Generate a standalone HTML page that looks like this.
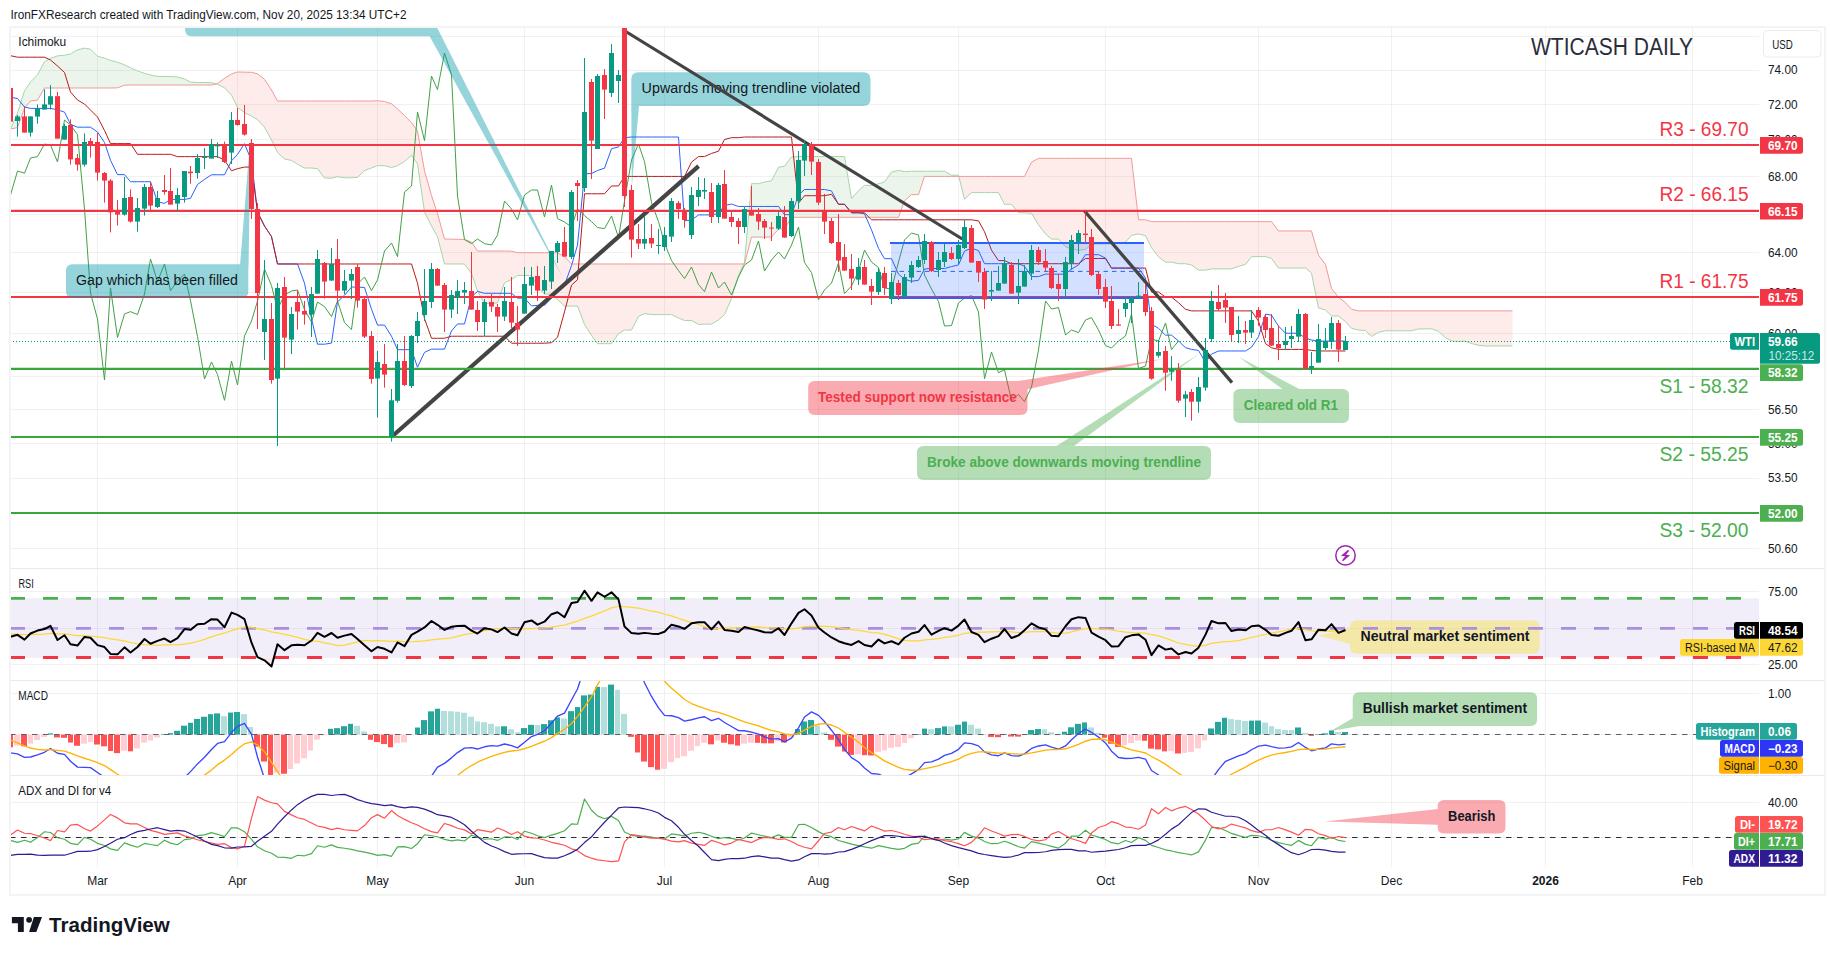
<!DOCTYPE html>
<html lang="en"><head><meta charset="utf-8"><title>WTICASH DAILY</title>
<style>
html,body{margin:0;padding:0;background:#fff;}
body{width:1835px;height:955px;overflow:hidden;font-family:'Liberation Sans', 'DejaVu Sans', sans-serif;}
svg{display:block;}
text{font-family:'Liberation Sans', 'DejaVu Sans', sans-serif;}
</style></head><body>
<svg width="1835" height="955" viewBox="0 0 1835 955">
<defs>
<clipPath id="cpMain"><rect x="10" y="27" width="1749" height="541.5"/></clipPath>
<clipPath id="cpRsi"><rect x="10" y="569" width="1749" height="111.5"/></clipPath>
<clipPath id="cpOB"><rect x="10" y="569" width="1749" height="29.4"/></clipPath>
<clipPath id="cpOS"><rect x="10" y="657.5" width="1749" height="23"/></clipPath>
<clipPath id="cpMacd"><rect x="10" y="681" width="1749" height="94.5"/></clipPath>
<clipPath id="cpAdx"><rect x="10" y="776" width="1749" height="91"/></clipPath>
</defs>
<rect width="1835" height="955" fill="#ffffff"/>
<g stroke="rgba(0,0,0,0.055)" stroke-width="1"><line x1="97.5" y1="27" x2="97.5" y2="867"/><line x1="237.5" y1="27" x2="237.5" y2="867"/><line x1="377.5" y1="27" x2="377.5" y2="867"/><line x1="524.5" y1="27" x2="524.5" y2="867"/><line x1="664.5" y1="27" x2="664.5" y2="867"/><line x1="818.5" y1="27" x2="818.5" y2="867"/><line x1="958.5" y1="27" x2="958.5" y2="867"/><line x1="1105.5" y1="27" x2="1105.5" y2="867"/><line x1="1258.5" y1="27" x2="1258.5" y2="867"/><line x1="1391.5" y1="27" x2="1391.5" y2="867"/><line x1="1545.5" y1="27" x2="1545.5" y2="867"/><line x1="1692.5" y1="27" x2="1692.5" y2="867"/><line x1="10" y1="36.5" x2="1759" y2="36.5"/><line x1="10" y1="70.5" x2="1759" y2="70.5"/><line x1="10" y1="104.5" x2="1759" y2="104.5"/><line x1="10" y1="139.5" x2="1759" y2="139.5"/><line x1="10" y1="176.5" x2="1759" y2="176.5"/><line x1="10" y1="214.5" x2="1759" y2="214.5"/><line x1="10" y1="252.5" x2="1759" y2="252.5"/><line x1="10" y1="292.5" x2="1759" y2="292.5"/><line x1="10" y1="333.5" x2="1759" y2="333.5"/><line x1="10" y1="376.5" x2="1759" y2="376.5"/><line x1="10" y1="409.5" x2="1759" y2="409.5"/><line x1="10" y1="443.5" x2="1759" y2="443.5"/><line x1="10" y1="478.5" x2="1759" y2="478.5"/><line x1="10" y1="513.5" x2="1759" y2="513.5"/><line x1="10" y1="548.5" x2="1759" y2="548.5"/><line x1="10" y1="591.5" x2="1759" y2="591.5"/><line x1="10" y1="628.5" x2="1759" y2="628.5"/><line x1="10" y1="664.5" x2="1759" y2="664.5"/><line x1="10" y1="693.5" x2="1759" y2="693.5"/><line x1="10" y1="734.5" x2="1759" y2="734.5"/><line x1="10" y1="802.5" x2="1759" y2="802.5"/><line x1="10" y1="837.5" x2="1759" y2="837.5"/></g>
<g clip-path="url(#cpMain)"><polygon points="10.5,129 10.5,129 10.5,129 10.5,129" fill="rgba(244,67,54,0.1)"/><polygon points="10.5,129 17.5,113 24.5,90.71 30.5,81.93 37.5,75 44.5,61.71 50.5,58.29 57.5,55.89 64.5,55.18 70.5,54.06 77.5,49.88 84.5,48.12 90.5,49.28 97.5,56.14 104.5,58.19 110.5,60.41 117.5,62.19 124.5,64.81 130.5,67.75 137.5,70.91 144.5,73.36 150.5,74.94 157.5,76.41 164.5,76.48 170.5,76.54 177.5,76.97 184.5,78.87 190.5,82.13 197.5,82.47 204.5,82.53 211.5,82.73 216.69,83.93 216.69,83.93 211.5,85 204.5,85 197.5,85 190.5,85 184.5,85 177.5,85 170.5,85 164.5,85 157.5,85 150.5,85 144.5,85 137.5,85 130.5,85 124.5,85.19 117.5,87.81 110.5,88 104.5,88 97.5,88 90.5,88 84.5,88 77.5,88 70.5,88 64.5,88 57.5,88 50.5,88 44.5,88 37.5,100.07 30.5,101 24.5,108.2 17.5,127.57 10.5,129" fill="rgba(67,160,71,0.1)"/><polygon points="216.69,83.93 217.5,84.27 224.5,87.74 231.5,95.08 237.5,107.38 244.5,112.62 251.5,115.92 257.5,119.64 264.5,127.25 271.5,140 277.5,152.5 284.5,159.03 291.5,160.39 297.5,164.29 304.5,168 311.5,168 317.5,168.71 324.5,178.03 331.5,178.25 337.5,176.69 344.5,177.84 351.5,177.84 357.5,177.34 364.5,170.46 371.5,167.97 377.5,165.68 384.5,165.68 391.5,167.49 397.5,165.78 404.5,161.52 411.5,155.33 417.5,163.89 424.5,212.02 431.5,226.05 437.5,236.6 444.5,263.98 451.5,263.98 457.5,263.98 464.5,263.98 471.5,273.53 477.5,291.01 484.5,303.44 491.5,303.44 497.5,302.92 504.5,282.77 511.5,279.48 517.5,275.46 524.5,275.46 531.5,275.7 537.5,286.4 544.5,294.16 551.5,294.16 557.5,299.58 564.5,306.09 571.5,306.09 577.5,306.09 584.5,324.49 591.5,335.38 597.5,343.68 604.5,343.68 611.5,343.68 618.5,333.57 624.5,330.07 631.5,330.07 638.5,316.3 644.5,313.59 651.5,314.58 658.5,314.58 664.5,314.58 671.5,314.58 678.5,318.02 684.5,320.47 691.5,320.47 698.5,324.42 704.5,324.15 711.5,324.15 718.5,319.95 724.5,314.65 731.5,298.37 738.5,275.31 744.29,263.98 744.29,263.98 738.5,263.98 731.5,263.98 724.5,263.98 718.5,263.98 711.5,263.98 704.5,263.98 698.5,263.98 691.5,263.98 684.5,263.98 678.5,263.98 671.5,263.98 664.5,263.98 658.5,263.98 651.5,263.98 644.5,263.98 638.5,263.98 631.5,263.98 624.5,263.98 618.5,263.98 611.5,263.98 604.5,263.98 597.5,263.98 591.5,263.98 584.5,263.98 577.5,263.98 571.5,263.98 564.5,256.59 557.5,252.71 551.5,252.71 544.5,252.71 537.5,252.71 531.5,252.71 524.5,252.71 517.5,252.71 511.5,251.17 504.5,251 497.5,251 491.5,251 484.5,251 477.5,251 471.5,242.04 464.5,239.47 457.5,239.31 451.5,239.17 444.5,239.01 437.5,213.5 431.5,195.5 424.5,170.83 417.5,131 411.5,122.71 404.5,115.5 397.5,108.95 391.5,103.83 384.5,101.45 377.5,100.78 371.5,101 364.5,101 357.5,101 351.5,101 344.5,101 337.5,101 331.5,101 324.5,101 317.5,101 311.5,101 304.5,101 297.5,101 291.5,101 284.5,101 277.5,101 271.5,90 264.5,79.25 257.5,73.84 251.5,72.32 244.5,72.17 237.5,72.01 231.5,73.94 224.5,78.38 217.5,83.62 216.69,83.93" fill="rgba(244,67,54,0.1)"/><polygon points="744.29,263.98 744.5,262.25 751.5,183.67 758.5,183.67 764.5,182.07 771.5,180.92 778.5,167.21 784.5,166.28 791.5,156.89 798.5,156.56 804.5,156.56 811.5,156.56 818.5,156.56 824.5,156.56 831.5,156.56 838.5,156.56 844.5,156.56 851.5,198.4 858.5,190.77 864.5,185.39 871.5,185.39 878.5,183.79 884.5,181.94 891.5,172.05 898.5,170.4 904.5,171.59 911.5,171.26 918.5,171.26 924.5,171.26 931.5,171.26 938.5,171.26 944.5,171.26 951.5,175.24 958.5,175.24 958.83,176.41 958.83,176.41 958.5,176.41 951.5,176.41 944.5,176.41 938.5,176.41 931.5,176.41 924.5,176.41 918.5,194.59 911.5,194.59 904.5,200.87 898.5,217.29 891.5,217.29 884.5,217.29 878.5,217.29 871.5,217.29 864.5,217.29 858.5,217.29 851.5,217.29 844.5,217.29 838.5,217.29 831.5,217.29 824.5,217.29 818.5,217.29 811.5,217.29 804.5,217.29 798.5,217.29 791.5,217.29 784.5,229.01 778.5,229.01 771.5,237.1 764.5,237.1 758.5,237.1 751.5,237.1 744.5,263.98 744.29,263.98" fill="rgba(67,160,71,0.1)"/><polygon points="958.83,176.41 964.5,199.18 971.5,192.59 978.5,192.59 984.5,192.59 991.5,192.59 998.5,192.6 1004.5,204.27 1011.5,204.27 1018.5,212.76 1024.5,212.76 1031.5,213.29 1038.5,224.83 1045.5,233.96 1051.5,239.09 1058.5,239.09 1065.5,246.67 1071.5,249.17 1078.5,250.16 1085.5,249.67 1091.5,244.16 1098.5,243.92 1105.5,243.92 1111.5,243.92 1118.5,242.96 1125.5,242.15 1131.5,235.35 1138.5,233.91 1145.5,235.65 1151.5,247.64 1158.5,256.93 1165.5,262.16 1171.5,262.16 1178.5,263.71 1185.5,263.71 1191.5,265.01 1198.5,270.14 1205.5,270.14 1211.5,268.92 1218.5,268.92 1225.5,268.92 1231.5,268.92 1238.5,266.37 1245.5,264.36 1251.5,256.6 1258.5,256.6 1265.5,256.6 1271.5,258.29 1278.5,268.09 1285.5,268.09 1291.5,268.09 1298.5,268.09 1305.5,268.09 1311.5,273.04 1318.5,307.98 1325.5,310.03 1331.5,316 1338.5,316 1345.5,321.68 1351.5,328.32 1358.5,330 1365.5,330.52 1371.5,336.44 1378.5,332.33 1385.5,330.78 1391.5,330.78 1398.5,330.78 1405.5,330.78 1411.5,330.78 1418.5,328.93 1425.5,328.92 1431.5,328.78 1438.5,331.36 1445.5,337.67 1452.5,341.28 1458.5,341.28 1465.5,341.28 1472.5,343.74 1478.5,345.24 1485.5,346.02 1492.5,346.02 1498.5,346.02 1505.5,346.02 1512.5,346.02 1512.5,310.9 1505.5,310.9 1498.5,310.9 1492.5,310.9 1485.5,310.9 1478.5,310.9 1472.5,310.9 1465.5,310.9 1458.5,310.9 1452.5,310.9 1445.5,310.9 1438.5,310.9 1431.5,310.9 1425.5,310.9 1418.5,310.9 1411.5,310.9 1405.5,310.9 1398.5,310.9 1391.5,310.9 1385.5,310.9 1378.5,310.9 1371.5,310.9 1365.5,310.9 1358.5,310.9 1351.5,309.25 1345.5,302.71 1338.5,297.11 1331.5,288.51 1325.5,264.51 1318.5,255.24 1311.5,230.95 1305.5,230.95 1298.5,230.95 1291.5,230.95 1285.5,230.95 1278.5,230.95 1271.5,221.66 1265.5,221.66 1258.5,221.66 1251.5,221.66 1245.5,221.66 1238.5,221.66 1231.5,221.66 1225.5,221.66 1218.5,221.66 1211.5,221.66 1205.5,221.66 1198.5,221.66 1191.5,221.66 1185.5,221.66 1178.5,221.66 1171.5,221.66 1165.5,221.66 1158.5,221.66 1151.5,221.66 1145.5,219.8 1138.5,219.8 1131.5,158.33 1125.5,158.33 1118.5,158.33 1111.5,158.33 1105.5,158.33 1098.5,158.33 1091.5,158.33 1085.5,158.33 1078.5,158.33 1071.5,158.33 1065.5,158.33 1058.5,158.33 1051.5,158.33 1045.5,158.33 1038.5,158.33 1031.5,162.15 1024.5,176.41 1018.5,176.41 1011.5,176.41 1004.5,176.41 998.5,176.41 991.5,176.41 984.5,176.41 978.5,176.41 971.5,176.41 964.5,176.41 958.83,176.41" fill="rgba(244,67,54,0.1)"/><polyline fill="none" stroke="#a5d6a7" stroke-width="1" stroke-linejoin="round" points="10.5,129 17.5,113 24.5,90.71 30.5,81.93 37.5,75 44.5,61.71 50.5,58.29 57.5,55.89 64.5,55.18 70.5,54.06 77.5,49.88 84.5,48.12 90.5,49.28 97.5,56.14 104.5,58.19 110.5,60.41 117.5,62.19 124.5,64.81 130.5,67.75 137.5,70.91 144.5,73.36 150.5,74.94 157.5,76.41 164.5,76.48 170.5,76.54 177.5,76.97 184.5,78.87 190.5,82.13 197.5,82.47 204.5,82.53 211.5,82.73 217.5,84.27 224.5,87.74 231.5,95.08 237.5,107.38 244.5,112.62 251.5,115.92 257.5,119.64 264.5,127.25 271.5,140 277.5,152.5 284.5,159.03 291.5,160.39 297.5,164.29 304.5,168 311.5,168 317.5,168.71 324.5,178.03 331.5,178.25 337.5,176.69 344.5,177.84 351.5,177.84 357.5,177.34 364.5,170.46 371.5,167.97 377.5,165.68 384.5,165.68 391.5,167.49 397.5,165.78 404.5,161.52 411.5,155.33 417.5,163.89 424.5,212.02 431.5,226.05 437.5,236.6 444.5,263.98 451.5,263.98 457.5,263.98 464.5,263.98 471.5,273.53 477.5,291.01 484.5,303.44 491.5,303.44 497.5,302.92 504.5,282.77 511.5,279.48 517.5,275.46 524.5,275.46 531.5,275.7 537.5,286.4 544.5,294.16 551.5,294.16 557.5,299.58 564.5,306.09 571.5,306.09 577.5,306.09 584.5,324.49 591.5,335.38 597.5,343.68 604.5,343.68 611.5,343.68 618.5,333.57 624.5,330.07 631.5,330.07 638.5,316.3 644.5,313.59 651.5,314.58 658.5,314.58 664.5,314.58 671.5,314.58 678.5,318.02 684.5,320.47 691.5,320.47 698.5,324.42 704.5,324.15 711.5,324.15 718.5,319.95 724.5,314.65 731.5,298.37 738.5,275.31 744.5,262.25 751.5,183.67 758.5,183.67 764.5,182.07 771.5,180.92 778.5,167.21 784.5,166.28 791.5,156.89 798.5,156.56 804.5,156.56 811.5,156.56 818.5,156.56 824.5,156.56 831.5,156.56 838.5,156.56 844.5,156.56 851.5,198.4 858.5,190.77 864.5,185.39 871.5,185.39 878.5,183.79 884.5,181.94 891.5,172.05 898.5,170.4 904.5,171.59 911.5,171.26 918.5,171.26 924.5,171.26 931.5,171.26 938.5,171.26 944.5,171.26 951.5,175.24 958.5,175.24 964.5,199.18 971.5,192.59 978.5,192.59 984.5,192.59 991.5,192.59 998.5,192.6 1004.5,204.27 1011.5,204.27 1018.5,212.76 1024.5,212.76 1031.5,213.29 1038.5,224.83 1045.5,233.96 1051.5,239.09 1058.5,239.09 1065.5,246.67 1071.5,249.17 1078.5,250.16 1085.5,249.67 1091.5,244.16 1098.5,243.92 1105.5,243.92 1111.5,243.92 1118.5,242.96 1125.5,242.15 1131.5,235.35 1138.5,233.91 1145.5,235.65 1151.5,247.64 1158.5,256.93 1165.5,262.16 1171.5,262.16 1178.5,263.71 1185.5,263.71 1191.5,265.01 1198.5,270.14 1205.5,270.14 1211.5,268.92 1218.5,268.92 1225.5,268.92 1231.5,268.92 1238.5,266.37 1245.5,264.36 1251.5,256.6 1258.5,256.6 1265.5,256.6 1271.5,258.29 1278.5,268.09 1285.5,268.09 1291.5,268.09 1298.5,268.09 1305.5,268.09 1311.5,273.04 1318.5,307.98 1325.5,310.03 1331.5,316 1338.5,316 1345.5,321.68 1351.5,328.32 1358.5,330 1365.5,330.52 1371.5,336.44 1378.5,332.33 1385.5,330.78 1391.5,330.78 1398.5,330.78 1405.5,330.78 1411.5,330.78 1418.5,328.93 1425.5,328.92 1431.5,328.78 1438.5,331.36 1445.5,337.67 1452.5,341.28 1458.5,341.28 1465.5,341.28 1472.5,343.74 1478.5,345.24 1485.5,346.02 1492.5,346.02 1498.5,346.02 1505.5,346.02 1512.5,346.02"/><polyline fill="none" stroke="#ef9a9a" stroke-width="1" stroke-linejoin="round" points="10.5,129 17.5,127.57 24.5,108.2 30.5,101 37.5,100.07 44.5,88 50.5,88 57.5,88 64.5,88 70.5,88 77.5,88 84.5,88 90.5,88 97.5,88 104.5,88 110.5,88 117.5,87.81 124.5,85.19 130.5,85 137.5,85 144.5,85 150.5,85 157.5,85 164.5,85 170.5,85 177.5,85 184.5,85 190.5,85 197.5,85 204.5,85 211.5,85 217.5,83.62 224.5,78.38 231.5,73.94 237.5,72.01 244.5,72.17 251.5,72.32 257.5,73.84 264.5,79.25 271.5,90 277.5,101 284.5,101 291.5,101 297.5,101 304.5,101 311.5,101 317.5,101 324.5,101 331.5,101 337.5,101 344.5,101 351.5,101 357.5,101 364.5,101 371.5,101 377.5,100.78 384.5,101.45 391.5,103.83 397.5,108.95 404.5,115.5 411.5,122.71 417.5,131 424.5,170.83 431.5,195.5 437.5,213.5 444.5,239.01 451.5,239.17 457.5,239.31 464.5,239.47 471.5,242.04 477.5,251 484.5,251 491.5,251 497.5,251 504.5,251 511.5,251.17 517.5,252.71 524.5,252.71 531.5,252.71 537.5,252.71 544.5,252.71 551.5,252.71 557.5,252.71 564.5,256.59 571.5,263.98 577.5,263.98 584.5,263.98 591.5,263.98 597.5,263.98 604.5,263.98 611.5,263.98 618.5,263.98 624.5,263.98 631.5,263.98 638.5,263.98 644.5,263.98 651.5,263.98 658.5,263.98 664.5,263.98 671.5,263.98 678.5,263.98 684.5,263.98 691.5,263.98 698.5,263.98 704.5,263.98 711.5,263.98 718.5,263.98 724.5,263.98 731.5,263.98 738.5,263.98 744.5,263.98 751.5,237.1 758.5,237.1 764.5,237.1 771.5,237.1 778.5,229.01 784.5,229.01 791.5,217.29 798.5,217.29 804.5,217.29 811.5,217.29 818.5,217.29 824.5,217.29 831.5,217.29 838.5,217.29 844.5,217.29 851.5,217.29 858.5,217.29 864.5,217.29 871.5,217.29 878.5,217.29 884.5,217.29 891.5,217.29 898.5,217.29 904.5,200.87 911.5,194.59 918.5,194.59 924.5,176.41 931.5,176.41 938.5,176.41 944.5,176.41 951.5,176.41 958.5,176.41 964.5,176.41 971.5,176.41 978.5,176.41 984.5,176.41 991.5,176.41 998.5,176.41 1004.5,176.41 1011.5,176.41 1018.5,176.41 1024.5,176.41 1031.5,162.15 1038.5,158.33 1045.5,158.33 1051.5,158.33 1058.5,158.33 1065.5,158.33 1071.5,158.33 1078.5,158.33 1085.5,158.33 1091.5,158.33 1098.5,158.33 1105.5,158.33 1111.5,158.33 1118.5,158.33 1125.5,158.33 1131.5,158.33 1138.5,219.8 1145.5,219.8 1151.5,221.66 1158.5,221.66 1165.5,221.66 1171.5,221.66 1178.5,221.66 1185.5,221.66 1191.5,221.66 1198.5,221.66 1205.5,221.66 1211.5,221.66 1218.5,221.66 1225.5,221.66 1231.5,221.66 1238.5,221.66 1245.5,221.66 1251.5,221.66 1258.5,221.66 1265.5,221.66 1271.5,221.66 1278.5,230.95 1285.5,230.95 1291.5,230.95 1298.5,230.95 1305.5,230.95 1311.5,230.95 1318.5,255.24 1325.5,264.51 1331.5,288.51 1338.5,297.11 1345.5,302.71 1351.5,309.25 1358.5,310.9 1365.5,310.9 1371.5,310.9 1378.5,310.9 1385.5,310.9 1391.5,310.9 1398.5,310.9 1405.5,310.9 1411.5,310.9 1418.5,310.9 1425.5,310.9 1431.5,310.9 1438.5,310.9 1445.5,310.9 1452.5,310.9 1458.5,310.9 1465.5,310.9 1472.5,310.9 1478.5,310.9 1485.5,310.9 1492.5,310.9 1498.5,310.9 1505.5,310.9 1512.5,310.9"/><polyline fill="none" stroke="#2962ff" stroke-width="1" stroke-linejoin="round" points="10.5,97.3 17.5,98.5 24.5,107 30.5,108.4 37.5,108.4 44.5,108.4 50.5,108.4 57.5,109.8 64.5,112.11 70.5,124.27 77.5,127.18 84.5,127.18 90.5,127.18 97.5,132 104.5,142.53 110.5,160.24 117.5,174.63 124.5,174.63 130.5,181.72 137.5,181.72 144.5,181.72 150.5,181.72 157.5,201.84 164.5,203.37 170.5,199.4 177.5,199.4 184.5,199.4 190.5,198.37 197.5,184.42 204.5,179.4 211.5,174.78 217.5,174.78 224.5,174.78 231.5,160.81 237.5,154.41 244.5,143.69 251.5,160.71 257.5,212.02 264.5,226.05 271.5,236.6 277.5,263.98 284.5,263.98 291.5,263.98 297.5,263.98 304.5,283.16 311.5,318.64 317.5,344.19 324.5,344.19 331.5,343.11 337.5,301.85 344.5,295.19 351.5,287.05 357.5,287.05 364.5,287.53 371.5,309.22 377.5,325.09 384.5,325.09 391.5,336.22 397.5,349.67 404.5,349.67 411.5,349.67 417.5,367.22 424.5,352.34 431.5,349.13 437.5,349.13 444.5,349.13 451.5,330.91 457.5,323.95 464.5,323.95 471.5,296.68 477.5,291.36 484.5,293.3 491.5,293.3 497.5,293.3 504.5,293.3 511.5,293.3 517.5,298.12 524.5,298.12 531.5,305.88 537.5,305.36 544.5,305.36 551.5,297.6 557.5,292.4 564.5,285.09 571.5,265.58 577.5,245.03 584.5,173.64 591.5,173.64 597.5,170.47 604.5,168.2 611.5,148.74 618.5,146.91 624.5,137.66 631.5,137.02 638.5,137.02 644.5,137.02 651.5,137.02 658.5,137.02 664.5,137.02 671.5,137.02 678.5,137.02 684.5,220.78 691.5,220.05 698.5,214.91 704.5,214.91 711.5,214.91 718.5,213.46 724.5,205.48 731.5,204.03 738.5,206.46 744.5,206.46 751.5,206.46 758.5,206.46 764.5,206.46 771.5,206.46 778.5,206.46 784.5,214.67 791.5,214.67 798.5,195.2 804.5,189.49 811.5,189.49 818.5,189.49 824.5,189.49 831.5,190.93 838.5,204.27 844.5,204.27 851.5,212.76 858.5,212.76 864.5,213.82 871.5,229.88 878.5,248.28 884.5,258.68 891.5,258.68 898.5,274.13 904.5,279.24 911.5,281.28 918.5,280.26 924.5,269 931.5,268.51 938.5,268.51 944.5,268.51 951.5,266.57 958.5,264.91 964.5,251.11 971.5,248.18 978.5,250.62 984.5,263.71 991.5,263.71 998.5,263.71 1004.5,263.71 1011.5,263.71 1018.5,263.71 1024.5,266.3 1031.5,276.59 1038.5,276.59 1045.5,274.15 1051.5,274.15 1058.5,274.15 1065.5,274.15 1071.5,269.03 1078.5,265 1085.5,254.68 1091.5,254.68 1098.5,254.68 1105.5,258.05 1111.5,268.09 1118.5,268.09 1125.5,268.09 1131.5,268.09 1138.5,268.09 1145.5,278.01 1151.5,324.18 1158.5,328.34 1165.5,335.18 1171.5,335.18 1178.5,340.95 1185.5,347.69 1191.5,349.39 1198.5,350.45 1205.5,362.52 1211.5,354.13 1218.5,350.97 1225.5,350.97 1231.5,350.97 1238.5,350.97 1245.5,350.97 1251.5,347.23 1258.5,336.74 1265.5,314.15 1271.5,315.13 1278.5,326.05 1285.5,333.22 1291.5,333.22 1298.5,333.22 1305.5,338.11 1311.5,340.05 1318.5,341.08 1325.5,341.08 1331.5,341.08 1338.5,341.08 1345.5,341.08"/><polyline fill="none" stroke="#b71c1c" stroke-width="1" stroke-linejoin="round" points="10.5,55.7 17.5,57.2 24.5,57.2 30.5,57.2 37.5,57.2 44.5,57.2 50.5,60 57.5,66 64.5,72.5 70.5,92 77.5,100 84.5,104 90.5,110 97.5,117 104.5,130.4 110.5,143.6 117.5,143.6 124.5,143.6 130.5,143.6 137.5,154.3 144.5,154.3 150.5,154.3 157.5,154.3 164.5,154.3 170.5,154.3 177.5,156.65 184.5,156.65 190.5,156.65 197.5,156.65 204.5,156.65 211.5,156.65 217.5,156.65 224.5,160.24 231.5,170.76 237.5,168.66 244.5,167.09 251.5,167.09 257.5,212.02 264.5,226.05 271.5,236.6 277.5,263.98 284.5,263.98 291.5,263.98 297.5,263.98 304.5,263.98 311.5,263.98 317.5,263.98 324.5,263.98 331.5,263.98 337.5,263.98 344.5,263.98 351.5,263.98 357.5,263.98 364.5,263.98 371.5,263.98 377.5,263.98 384.5,263.98 391.5,263.98 397.5,263.98 404.5,263.98 411.5,263.98 417.5,283.16 424.5,318.64 431.5,338.25 437.5,338.25 444.5,338.25 451.5,336.22 457.5,336.22 464.5,336.22 471.5,336.22 477.5,336.22 484.5,336.22 491.5,336.22 497.5,336.22 504.5,336.22 511.5,343.23 517.5,343.23 524.5,343.23 531.5,343.23 537.5,343.23 544.5,343.23 551.5,342.69 557.5,337.3 564.5,311.78 571.5,285.11 577.5,279.7 584.5,193.77 591.5,193.77 597.5,193.77 604.5,193.77 611.5,185.96 618.5,185.96 624.5,176.41 631.5,176.41 638.5,176.41 644.5,176.41 651.5,176.41 658.5,176.41 664.5,176.41 671.5,176.41 678.5,176.41 684.5,176.41 691.5,162.15 698.5,156.55 704.5,156.55 711.5,153.43 718.5,151.19 724.5,139.47 731.5,137.66 738.5,137.66 744.5,137.02 751.5,137.02 758.5,137.02 764.5,137.02 771.5,137.02 778.5,137.02 784.5,137.02 791.5,137.02 798.5,203.17 804.5,195.71 811.5,195.71 818.5,195.71 824.5,195.71 831.5,194.28 838.5,204.27 844.5,204.27 851.5,212.76 858.5,212.76 864.5,212.76 871.5,219.8 878.5,219.8 884.5,219.8 891.5,219.8 898.5,219.8 904.5,219.8 911.5,219.8 918.5,219.8 924.5,219.8 931.5,219.8 938.5,219.8 944.5,219.8 951.5,219.8 958.5,219.8 964.5,219.8 971.5,219.8 978.5,220.86 984.5,231.76 991.5,250.19 998.5,260.6 1004.5,260.6 1011.5,263.71 1018.5,263.71 1024.5,263.71 1031.5,263.71 1038.5,263.71 1045.5,263.71 1051.5,263.71 1058.5,263.71 1065.5,263.71 1071.5,263.71 1078.5,263.71 1085.5,258.53 1091.5,258.53 1098.5,258.53 1105.5,258.53 1111.5,268.09 1118.5,268.09 1125.5,268.09 1131.5,268.09 1138.5,268.09 1145.5,268.09 1151.5,291.99 1158.5,291.99 1165.5,297.11 1171.5,297.11 1178.5,302.71 1185.5,309.25 1191.5,310.9 1198.5,310.9 1205.5,310.9 1211.5,310.9 1218.5,310.9 1225.5,310.9 1231.5,310.9 1238.5,310.9 1245.5,310.9 1251.5,310.9 1258.5,321.15 1265.5,343.58 1271.5,347.81 1278.5,349.39 1285.5,349.39 1291.5,349.39 1298.5,349.39 1305.5,349.39 1311.5,350.45 1318.5,350.97 1325.5,350.97 1331.5,350.97 1338.5,350.97 1345.5,350.97"/><polyline fill="none" stroke="#43a047" stroke-width="1" stroke-linejoin="round" points="10.5,195 17.5,171 24.5,173.2 30.5,158 37.5,156.6 44.5,144 50.5,145 57.5,162 64.5,120 70.5,125 77.5,134.6 84.5,209 90.5,293 97.5,319 104.5,380 110.5,288 117.5,337.6 124.5,314 130.5,311.6 137.5,314.6 144.5,294 150.5,259 157.5,281.6 164.5,264 170.5,290.6 177.5,281 184.5,274 190.5,300.6 197.5,336.6 204.5,379 211.5,362 217.5,374.6 224.5,400.3 231.5,361 237.5,385 244.5,336 251.5,321 257.5,301 264.5,269 271.5,285.6 277.5,309.6 284.5,295 291.5,291 297.5,290 304.5,309.6 311.5,322 317.5,302 324.5,306.6 331.5,316.6 337.5,301 344.5,322.6 351.5,329.6 357.5,284 364.5,277 371.5,290.6 377.5,280 384.5,251 391.5,243 397.5,256.6 404.5,192 411.5,186 417.5,112 424.5,140.6 431.5,76 437.5,89.6 444.5,53 451.5,75 457.5,196 464.5,239.6 471.5,243.6 477.5,239 484.5,243.6 491.5,245 497.5,235 504.5,201 511.5,209 517.5,220 524.5,195 531.5,190 537.5,190 544.5,217 551.5,185 557.5,218.6 564.5,222 571.5,227 577.5,209 584.5,215.6 591.5,221.6 597.5,227.6 604.5,228.6 611.5,216 618.5,237.6 624.5,201 631.5,160 638.5,144 644.5,161.6 651.5,202.6 658.5,221.6 664.5,243 671.5,260.6 678.5,270.6 684.5,278.6 691.5,267 698.5,284.6 704.5,291.6 711.5,272 718.5,288 724.5,282 731.5,295 738.5,277 744.5,265 751.5,260 758.5,241 764.5,271 771.5,260 778.5,252 784.5,259 791.5,245 798.5,227 804.5,262.6 811.5,272.6 818.5,299.6 824.5,290 831.5,283 838.5,263 844.5,293.6 851.5,286 858.5,271 864.5,250 871.5,262 878.5,267.6 884.5,288 891.5,289 898.5,262 904.5,240 911.5,233 918.5,235 924.5,275 931.5,289 938.5,301.6 944.5,326 951.5,325.6 958.5,303 964.5,298 971.5,295.6 978.5,312 984.5,378.7 991.5,352 998.5,372.7 1004.5,369.8 1011.5,400.7 1018.5,394.4 1024.5,401.7 1031.5,387 1038.5,350 1045.5,301 1051.5,309 1058.5,307.6 1065.5,335 1071.5,330 1078.5,332.6 1085.5,320 1091.5,317.6 1098.5,330 1105.5,345.6 1111.5,348 1118.5,341 1125.5,336 1131.5,314 1138.5,368.6 1145.5,366 1151.5,339 1158.5,341 1165.5,323 1171.5,349.6 1178.5,341"/></g>
<g clip-path="url(#cpMain)"><line x1="391.4" y1="437" x2="698.6" y2="166.2" stroke="#444444" stroke-width="4.2" stroke-linecap="butt"/></g>
<g clip-path="url(#cpMain)"><line x1="10" y1="145" x2="1759" y2="145" stroke="#f23645" stroke-width="2.1"/><line x1="10" y1="210.9" x2="1759" y2="210.9" stroke="#f23645" stroke-width="2.1"/><line x1="10" y1="297" x2="1759" y2="297" stroke="#f23645" stroke-width="2.1"/><line x1="10" y1="368.9" x2="1759" y2="368.9" stroke="#3aa63e" stroke-width="2.1"/><line x1="10" y1="437" x2="1759" y2="437" stroke="#3aa63e" stroke-width="2.1"/><line x1="10" y1="513" x2="1759" y2="513" stroke="#3aa63e" stroke-width="2.1"/></g>
<g clip-path="url(#cpMain)"><rect x="891" y="243" width="253" height="55" fill="rgba(41,98,255,0.2)"/><line x1="890" y1="243" x2="1144" y2="243" stroke="#2962ff" stroke-width="2.2"/><line x1="890" y1="298" x2="1144" y2="298" stroke="#2962ff" stroke-width="2.2"/><line x1="891" y1="271.4" x2="1144" y2="271.4" stroke="#2962ff" stroke-width="1" stroke-dasharray="4.5 4"/></g>
<g clip-path="url(#cpMain)"><path d="M185 20 L185 29.3 Q185 36.3 192 36.3 L429.6 36.3 L563.5 279 L433.3 20 Z" fill="rgba(0,151,167,0.41)"/><path d="M72.5 264.2 L240.1 264.2 L250.5 135 L248.6 264.2 L248.3 270 L248.3 291.5 Q248.3 298 241.8 298 L72.5 298 Q66 298 66 291.5 L66 270.7 Q66 264.2 72.5 264.2 Z" fill="rgba(0,151,167,0.41)"/><path d="M638.3 72.2 L863.5 72.2 Q870.5 72.2 870.5 79.2 L870.5 98.9 Q870.5 105.9 863.5 105.9 L639 105.9 L631.8 187 L631.3 105.9 L631.3 100 L631.3 79.2 Q631.3 72.2 638.3 72.2 Z" fill="rgba(0,151,167,0.41)"/><path d="M814.7 381.1 L1018 381.1 L1163.4 358.7 L1027.5 389.2 L1027.5 408.5 Q1027.5 415 1021 415 L814.7 415 Q808.2 415 808.2 408.5 L808.2 387.6 Q808.2 381.1 814.7 381.1 Z" fill="rgba(242,54,69,0.42)"/><path d="M923.5 446.1 L1056.5 446.1 L1201 352.6 L1074 446.1 L1204.5 446.1 Q1211 446.1 1211 452.6 L1211 473.5 Q1211 480 1204.5 480 L923.5 480 Q917 480 917 473.5 L917 452.6 Q917 446.1 923.5 446.1 Z" fill="rgba(76,175,80,0.42)"/><path d="M1239.9 389.1 L1282.4 389.1 L1238.4 356.8 L1299.3 389.1 L1342.5 389.1 Q1349 389.1 1349 395.6 L1349 416.5 Q1349 423 1342.5 423 L1239.9 423 Q1233.4 423 1233.4 416.5 L1233.4 395.6 Q1233.4 389.1 1239.9 389.1 Z" fill="rgba(76,175,80,0.42)"/></g>
<g clip-path="url(#cpMain)"><text x="76.1" y="284.7" font-size="14" fill="#131722" textLength="161.8" lengthAdjust="spacingAndGlyphs">Gap which has been filled</text><text x="641.6" y="92.6" font-size="14" fill="#131722" textLength="218.7" lengthAdjust="spacingAndGlyphs">Upwards moving trendline violated</text><text x="818" y="401.6" font-size="14" fill="#f23645" font-weight="700" textLength="198.8" lengthAdjust="spacingAndGlyphs">Tested support now resistance</text><text x="927" y="467" font-size="14" fill="#4caf50" font-weight="700" textLength="274" lengthAdjust="spacingAndGlyphs">Broke above downwards moving trendline</text><text x="1243.8" y="409.6" font-size="14" fill="#4caf50" font-weight="700" textLength="94.2" lengthAdjust="spacingAndGlyphs">Cleared old R1</text><text x="1748.5" y="135.7" font-size="19.5" fill="#f23645" textLength="89" lengthAdjust="spacingAndGlyphs" text-anchor="end">R3 - 69.70</text><text x="1748.5" y="200.9" font-size="19.5" fill="#f23645" textLength="89" lengthAdjust="spacingAndGlyphs" text-anchor="end">R2 - 66.15</text><text x="1748.5" y="287.9" font-size="19.5" fill="#f23645" textLength="89" lengthAdjust="spacingAndGlyphs" text-anchor="end">R1 - 61.75</text><text x="1748.5" y="392.8" font-size="19.5" fill="#4caf50" textLength="89" lengthAdjust="spacingAndGlyphs" text-anchor="end">S1 - 58.32</text><text x="1748.5" y="461" font-size="19.5" fill="#4caf50" textLength="89" lengthAdjust="spacingAndGlyphs" text-anchor="end">S2 - 55.25</text><text x="1748.5" y="536.8" font-size="19.5" fill="#4caf50" textLength="89" lengthAdjust="spacingAndGlyphs" text-anchor="end">S3 - 52.00</text></g>
<g clip-path="url(#cpMain)"><line x1="622.5" y1="29.5" x2="962.3" y2="239" stroke="#444444" stroke-width="3.2" stroke-linecap="butt"/><line x1="1084.5" y1="211" x2="1232" y2="382.6" stroke="#444444" stroke-width="3.3" stroke-linecap="butt"/></g>
<g clip-path="url(#cpMain)"><g fill="#089981"><rect x="17" y="115" width="1" height="21.6"/><rect x="30" y="116.4" width="1" height="20.2"/><rect x="37" y="104.4" width="1" height="19.2"/><rect x="44" y="89.4" width="1" height="20.2"/><rect x="50" y="85.2" width="1" height="24.2"/><rect x="64" y="124" width="1" height="15.6"/><rect x="84" y="133.4" width="1" height="33.2"/><rect x="124" y="177" width="1" height="38.6"/><rect x="137" y="198" width="1" height="33.6"/><rect x="144" y="184" width="1" height="31.6"/><rect x="157" y="191" width="1" height="17"/><rect x="177" y="188" width="1" height="23.6"/><rect x="184" y="171" width="1" height="31.6"/><rect x="197" y="154" width="1" height="24.6"/><rect x="204" y="148" width="1" height="21"/><rect x="211" y="139" width="1" height="19.6"/><rect x="217" y="142.4" width="1" height="15.6"/><rect x="231" y="112" width="1" height="52"/><rect x="264" y="260" width="1" height="100"/><rect x="277" y="283" width="1" height="163"/><rect x="291" y="307" width="1" height="47"/><rect x="311" y="287" width="1" height="50"/><rect x="317" y="250" width="1" height="43.6"/><rect x="331" y="248" width="1" height="32.6"/><rect x="344" y="270" width="1" height="24"/><rect x="351" y="269" width="1" height="30"/><rect x="377" y="351" width="1" height="66.5"/><rect x="391" y="389" width="1" height="52.6"/><rect x="397" y="344" width="1" height="58.7"/><rect x="411" y="335" width="1" height="53"/><rect x="417" y="312" width="1" height="31"/><rect x="424" y="269" width="1" height="52"/><rect x="431" y="263" width="1" height="45"/><rect x="451" y="290" width="1" height="28"/><rect x="457" y="280" width="1" height="34"/><rect x="464" y="282" width="1" height="22"/><rect x="484" y="299" width="1" height="37"/><rect x="504" y="287" width="1" height="34"/><rect x="524" y="267" width="1" height="46.6"/><rect x="531" y="267" width="1" height="28"/><rect x="544" y="266" width="1" height="28"/><rect x="551" y="251" width="1" height="38"/><rect x="557" y="241" width="1" height="22"/><rect x="571" y="190" width="1" height="69"/><rect x="584" y="58" width="1" height="134"/><rect x="597" y="74" width="1" height="75"/><rect x="611" y="44" width="1" height="53"/><rect x="618" y="70" width="1" height="33"/><rect x="644" y="215.8" width="1" height="33.2"/><rect x="658" y="229" width="1" height="25"/><rect x="664" y="227" width="1" height="24"/><rect x="671" y="198" width="1" height="44"/><rect x="691" y="187" width="1" height="52"/><rect x="698" y="177" width="1" height="29"/><rect x="704" y="178" width="1" height="21"/><rect x="718" y="183" width="1" height="40"/><rect x="744" y="207" width="1" height="26"/><rect x="778" y="211" width="1" height="19"/><rect x="791" y="198" width="1" height="39"/><rect x="798" y="151" width="1" height="58"/><rect x="804" y="140" width="1" height="36"/><rect x="858" y="258" width="1" height="27"/><rect x="878" y="268" width="1" height="27"/><rect x="891" y="273" width="1" height="31"/><rect x="904" y="274" width="1" height="22.6"/><rect x="911" y="261" width="1" height="22"/><rect x="918" y="256" width="1" height="12"/><rect x="924" y="234" width="1" height="30"/><rect x="938" y="252" width="1" height="25"/><rect x="944" y="244" width="1" height="23"/><rect x="958" y="240" width="1" height="24"/><rect x="964" y="220" width="1" height="29"/><rect x="991" y="271" width="1" height="30"/><rect x="998" y="266" width="1" height="24.6"/><rect x="1004" y="257" width="1" height="26.6"/><rect x="1018" y="259" width="1" height="45"/><rect x="1024" y="265" width="1" height="21.6"/><rect x="1031" y="245" width="1" height="35"/><rect x="1065" y="257" width="1" height="40"/><rect x="1071" y="235" width="1" height="35"/><rect x="1078" y="230" width="1" height="24"/><rect x="1125" y="296" width="1" height="21"/><rect x="1131" y="296" width="1" height="27"/><rect x="1138" y="282" width="1" height="16"/><rect x="1158" y="340" width="1" height="17.7"/><rect x="1171" y="356" width="1" height="24.8"/><rect x="1185" y="391" width="1" height="26"/><rect x="1198" y="377" width="1" height="35.7"/><rect x="1205" y="338" width="1" height="52.7"/><rect x="1211" y="291" width="1" height="51"/><rect x="1238" y="316" width="1" height="27"/><rect x="1251" y="310" width="1" height="28"/><rect x="1285" y="327" width="1" height="23"/><rect x="1291" y="326" width="1" height="22"/><rect x="1298" y="309" width="1" height="33"/><rect x="1311" y="352" width="1" height="22"/><rect x="1318" y="324" width="1" height="38.6"/><rect x="1325" y="328" width="1" height="22"/><rect x="1331" y="317" width="1" height="32"/><rect x="1345" y="336" width="1" height="14"/><rect x="15" y="116.4" width="5" height="4.6"/><rect x="28" y="116.4" width="5" height="16.2"/><rect x="35" y="108.6" width="5" height="8"/><rect x="42" y="104.4" width="5" height="5.2"/><rect x="48" y="96.2" width="5" height="8.4"/><rect x="62" y="126" width="5" height="13.6"/><rect x="82" y="142" width="5" height="22.6"/><rect x="122" y="198" width="5" height="16.6"/><rect x="135" y="208" width="5" height="13.6"/><rect x="142" y="187" width="5" height="21.6"/><rect x="155" y="198" width="5" height="9"/><rect x="175" y="195" width="5" height="8.6"/><rect x="182" y="171" width="5" height="26"/><rect x="195" y="158" width="5" height="15"/><rect x="202" y="156.6" width="5" height="1.4"/><rect x="209" y="144" width="5" height="14.6"/><rect x="215" y="145" width="5" height="1.4"/><rect x="229" y="120" width="5" height="32.6"/><rect x="262" y="319" width="5" height="13"/><rect x="275" y="288" width="5" height="90.6"/><rect x="289" y="314" width="5" height="25.6"/><rect x="309" y="294" width="5" height="20.6"/><rect x="315" y="259" width="5" height="34.6"/><rect x="329" y="264" width="5" height="16.6"/><rect x="342" y="281" width="5" height="9.6"/><rect x="349" y="274" width="5" height="6.6"/><rect x="375" y="362" width="5" height="16.5"/><rect x="389" y="400.3" width="5" height="36.7"/><rect x="395" y="361" width="5" height="39.8"/><rect x="409" y="336" width="5" height="50"/><rect x="415" y="321" width="5" height="15"/><rect x="422" y="301" width="5" height="14"/><rect x="429" y="269" width="5" height="33"/><rect x="449" y="295" width="5" height="14.6"/><rect x="455" y="291" width="5" height="6.6"/><rect x="462" y="290" width="5" height="2.6"/><rect x="482" y="302" width="5" height="20"/><rect x="502" y="301" width="5" height="15.6"/><rect x="522" y="284" width="5" height="29.6"/><rect x="529" y="277" width="5" height="8.6"/><rect x="542" y="280" width="5" height="10.6"/><rect x="549" y="251" width="5" height="30.6"/><rect x="555" y="243" width="5" height="9"/><rect x="569" y="192" width="5" height="65"/><rect x="582" y="112" width="5" height="76"/><rect x="595" y="76" width="5" height="73"/><rect x="609" y="53" width="5" height="40"/><rect x="616" y="75" width="5" height="6"/><rect x="642" y="239" width="5" height="4.6"/><rect x="656" y="245" width="5" height="1"/><rect x="662" y="235" width="5" height="12"/><rect x="669" y="201" width="5" height="35.6"/><rect x="689" y="195" width="5" height="40"/><rect x="696" y="190" width="5" height="7"/><rect x="702" y="190" width="5" height="1.6"/><rect x="716" y="185" width="5" height="32"/><rect x="742" y="209" width="5" height="18"/><rect x="776" y="216" width="5" height="12.6"/><rect x="789" y="201" width="5" height="35"/><rect x="796" y="160" width="5" height="41"/><rect x="802" y="144" width="5" height="16.6"/><rect x="856" y="267" width="5" height="12.6"/><rect x="876" y="272" width="5" height="20"/><rect x="889" y="282" width="5" height="17"/><rect x="902" y="277" width="5" height="19.6"/><rect x="909" y="265" width="5" height="12.6"/><rect x="916" y="260" width="5" height="7"/><rect x="922" y="241" width="5" height="19"/><rect x="936" y="260" width="5" height="10"/><rect x="942" y="252" width="5" height="10"/><rect x="956" y="245" width="5" height="14"/><rect x="962" y="227" width="5" height="21"/><rect x="989" y="290" width="5" height="1.6"/><rect x="996" y="283" width="5" height="7.6"/><rect x="1002" y="263" width="5" height="20.6"/><rect x="1016" y="286" width="5" height="6.6"/><rect x="1022" y="271" width="5" height="15.6"/><rect x="1029" y="250" width="5" height="23.6"/><rect x="1063" y="262" width="5" height="27"/><rect x="1069" y="240" width="5" height="23"/><rect x="1076" y="233" width="5" height="9"/><rect x="1123" y="303" width="5" height="6"/><rect x="1129" y="298" width="5" height="5"/><rect x="1136" y="295.6" width="5" height="2"/><rect x="1156" y="352" width="5" height="3.7"/><rect x="1169" y="369.8" width="5" height="1.9"/><rect x="1183" y="394.4" width="5" height="4.2"/><rect x="1196" y="387" width="5" height="14.7"/><rect x="1203" y="350" width="5" height="37.6"/><rect x="1209" y="301" width="5" height="38"/><rect x="1236" y="330" width="5" height="4"/><rect x="1249" y="320" width="5" height="12.6"/><rect x="1283" y="341" width="5" height="4"/><rect x="1289" y="336" width="5" height="3"/><rect x="1296" y="314" width="5" height="22.6"/><rect x="1309" y="366" width="5" height="2.6"/><rect x="1316" y="339" width="5" height="23.6"/><rect x="1323" y="341" width="5" height="7"/><rect x="1329" y="323" width="5" height="19"/><rect x="1343" y="341" width="5" height="9"/></g><g fill="#f23645"><rect x="10" y="86" width="1" height="36"/><rect x="24" y="106.4" width="1" height="26.2"/><rect x="57" y="92" width="1" height="46.6"/><rect x="70" y="119.4" width="1" height="45.2"/><rect x="77" y="154" width="1" height="16.6"/><rect x="90" y="138" width="1" height="19.6"/><rect x="97" y="133" width="1" height="47.6"/><rect x="104" y="172" width="1" height="30.6"/><rect x="110" y="179" width="1" height="53.4"/><rect x="117" y="200" width="1" height="25.6"/><rect x="130" y="189.4" width="1" height="33.2"/><rect x="150" y="182" width="1" height="28"/><rect x="164" y="175" width="1" height="19.6"/><rect x="170" y="168" width="1" height="36.6"/><rect x="190" y="166" width="1" height="17.6"/><rect x="224" y="141.6" width="1" height="21.4"/><rect x="237" y="108" width="1" height="17.6"/><rect x="244" y="105" width="1" height="30.6"/><rect x="251" y="139" width="1" height="80"/><rect x="257" y="203" width="1" height="126"/><rect x="271" y="303" width="1" height="80.6"/><rect x="284" y="277" width="1" height="91"/><rect x="297" y="290" width="1" height="39.6"/><rect x="304" y="301" width="1" height="23.6"/><rect x="324" y="262" width="1" height="36.6"/><rect x="337" y="239" width="1" height="63"/><rect x="357" y="264" width="1" height="43.6"/><rect x="364" y="297" width="1" height="41"/><rect x="371" y="331" width="1" height="52.6"/><rect x="384" y="344" width="1" height="43.7"/><rect x="404" y="336" width="1" height="50"/><rect x="437" y="268" width="1" height="18"/><rect x="444" y="283" width="1" height="49"/><rect x="471" y="252" width="1" height="57.6"/><rect x="477" y="301" width="1" height="30"/><rect x="491" y="294" width="1" height="18"/><rect x="497" y="304" width="1" height="28"/><rect x="511" y="277" width="1" height="51"/><rect x="517" y="306" width="1" height="40"/><rect x="537" y="266" width="1" height="35"/><rect x="564" y="227" width="1" height="29.6"/><rect x="577" y="180" width="1" height="41"/><rect x="591" y="79" width="1" height="100"/><rect x="604" y="69" width="1" height="50"/><rect x="624" y="27" width="1" height="180"/><rect x="631" y="185" width="1" height="72.6"/><rect x="638" y="224" width="1" height="25"/><rect x="651" y="224" width="1" height="24"/><rect x="678" y="201" width="1" height="18"/><rect x="684" y="208" width="1" height="19.6"/><rect x="711" y="183" width="1" height="40"/><rect x="724" y="170" width="1" height="48.6"/><rect x="731" y="212" width="1" height="15"/><rect x="738" y="218" width="1" height="26"/><rect x="751" y="186" width="1" height="29.6"/><rect x="758" y="208" width="1" height="22"/><rect x="764" y="219" width="1" height="20"/><rect x="771" y="222" width="1" height="19"/><rect x="784" y="206" width="1" height="31.6"/><rect x="811" y="142" width="1" height="33"/><rect x="818" y="159" width="1" height="46"/><rect x="824" y="194" width="1" height="40"/><rect x="831" y="218" width="1" height="26"/><rect x="838" y="214" width="1" height="58"/><rect x="844" y="244" width="1" height="27"/><rect x="851" y="254" width="1" height="36"/><rect x="864" y="260" width="1" height="24.6"/><rect x="871" y="279" width="1" height="26"/><rect x="884" y="267" width="1" height="28"/><rect x="898" y="280" width="1" height="20"/><rect x="931" y="241" width="1" height="31"/><rect x="951" y="247" width="1" height="13"/><rect x="971" y="225" width="1" height="37.6"/><rect x="978" y="261" width="1" height="21"/><rect x="984" y="268" width="1" height="41"/><rect x="1011" y="262" width="1" height="31.6"/><rect x="1038" y="247" width="1" height="18"/><rect x="1045" y="249" width="1" height="23"/><rect x="1051" y="266" width="1" height="23"/><rect x="1058" y="274" width="1" height="27"/><rect x="1085" y="210" width="1" height="33"/><rect x="1091" y="229" width="1" height="47"/><rect x="1098" y="271" width="1" height="24"/><rect x="1105" y="279" width="1" height="29"/><rect x="1111" y="286" width="1" height="43"/><rect x="1118" y="309" width="1" height="16.6"/><rect x="1145" y="284" width="1" height="32"/><rect x="1151" y="307" width="1" height="72.7"/><rect x="1165" y="346" width="1" height="44.7"/><rect x="1178" y="363" width="1" height="39.8"/><rect x="1191" y="389" width="1" height="31.6"/><rect x="1218" y="285" width="1" height="26"/><rect x="1225" y="293" width="1" height="30"/><rect x="1231" y="307" width="1" height="34"/><rect x="1245" y="321" width="1" height="23"/><rect x="1258" y="307" width="1" height="18.8"/><rect x="1265" y="314" width="1" height="24"/><rect x="1271" y="314" width="1" height="32"/><rect x="1278" y="326" width="1" height="34"/><rect x="1305" y="313" width="1" height="57"/><rect x="1338" y="320" width="1" height="42"/><rect x="8" y="88" width="5" height="33.6"/><rect x="22" y="116.4" width="5" height="16.2"/><rect x="55" y="96.2" width="5" height="42.4"/><rect x="68" y="125" width="5" height="34.4"/><rect x="75" y="158" width="5" height="6.6"/><rect x="88" y="141" width="5" height="4"/><rect x="95" y="142" width="5" height="30.6"/><rect x="102" y="173" width="5" height="7.6"/><rect x="108" y="180.6" width="5" height="31.8"/><rect x="115" y="211" width="5" height="3.6"/><rect x="128" y="197" width="5" height="24.6"/><rect x="148" y="187" width="5" height="18.6"/><rect x="162" y="190" width="5" height="2"/><rect x="168" y="191" width="5" height="13.6"/><rect x="188" y="171.6" width="5" height="1.6"/><rect x="222" y="144" width="5" height="18"/><rect x="235" y="120" width="5" height="5"/><rect x="242" y="124" width="5" height="10.6"/><rect x="249" y="143" width="5" height="66"/><rect x="255" y="209" width="5" height="84"/><rect x="269" y="319" width="5" height="61"/><rect x="282" y="287" width="5" height="50.6"/><rect x="295" y="302" width="5" height="9.6"/><rect x="302" y="311" width="5" height="3.6"/><rect x="322" y="263" width="5" height="18.6"/><rect x="335" y="259" width="5" height="31.6"/><rect x="355" y="267" width="5" height="33.6"/><rect x="362" y="299" width="5" height="37.6"/><rect x="369" y="336" width="5" height="43"/><rect x="382" y="364" width="5" height="10.6"/><rect x="402" y="361" width="5" height="24"/><rect x="435" y="269" width="5" height="16.6"/><rect x="442" y="285" width="5" height="24.6"/><rect x="469" y="291" width="5" height="18.6"/><rect x="475" y="310" width="5" height="12"/><rect x="489" y="302" width="5" height="4.6"/><rect x="495" y="307" width="5" height="9.6"/><rect x="509" y="302" width="5" height="20.6"/><rect x="515" y="323" width="5" height="6.6"/><rect x="535" y="276" width="5" height="14.6"/><rect x="562" y="242" width="5" height="14.6"/><rect x="575" y="183" width="5" height="3"/><rect x="589" y="82" width="5" height="58.6"/><rect x="602" y="75" width="5" height="14.6"/><rect x="622" y="28" width="5" height="168"/><rect x="629" y="190" width="5" height="49.6"/><rect x="636" y="239" width="5" height="4.6"/><rect x="649" y="238" width="5" height="5.6"/><rect x="676" y="203" width="5" height="6"/><rect x="682" y="210" width="5" height="10"/><rect x="709" y="192" width="5" height="25"/><rect x="722" y="184" width="5" height="34.6"/><rect x="729" y="217" width="5" height="5"/><rect x="736" y="221" width="5" height="6"/><rect x="749" y="211" width="5" height="4.6"/><rect x="756" y="214" width="5" height="7.6"/><rect x="762" y="221" width="5" height="6.6"/><rect x="769" y="227.6" width="5" height="1"/><rect x="782" y="217" width="5" height="20.6"/><rect x="809" y="144" width="5" height="17.6"/><rect x="816" y="162" width="5" height="40.6"/><rect x="822" y="211" width="5" height="10.6"/><rect x="829" y="221" width="5" height="22"/><rect x="836" y="242" width="5" height="18.6"/><rect x="842" y="257" width="5" height="13.6"/><rect x="849" y="269" width="5" height="9.6"/><rect x="862" y="267" width="5" height="17.6"/><rect x="869" y="286" width="5" height="5.6"/><rect x="882" y="273" width="5" height="15"/><rect x="896" y="283" width="5" height="12"/><rect x="929" y="242" width="5" height="29"/><rect x="949" y="253" width="5" height="6"/><rect x="969" y="228" width="5" height="34.6"/><rect x="976" y="261" width="5" height="11.6"/><rect x="982" y="272" width="5" height="27.6"/><rect x="1009" y="265" width="5" height="28.6"/><rect x="1036" y="250" width="5" height="12"/><rect x="1043" y="261" width="5" height="6.6"/><rect x="1049" y="268" width="5" height="20"/><rect x="1056" y="284" width="5" height="5"/><rect x="1083" y="233.6" width="5" height="1.4"/><rect x="1089" y="237" width="5" height="38"/><rect x="1096" y="274" width="5" height="15"/><rect x="1103" y="287" width="5" height="14.6"/><rect x="1109" y="301" width="5" height="25"/><rect x="1116" y="324.4" width="5" height="1.2"/><rect x="1143" y="294" width="5" height="18"/><rect x="1149" y="311" width="5" height="67.7"/><rect x="1163" y="351" width="5" height="21.7"/><rect x="1176" y="369.8" width="5" height="30.9"/><rect x="1189" y="392" width="5" height="9.7"/><rect x="1216" y="302" width="5" height="7"/><rect x="1223" y="300" width="5" height="7.6"/><rect x="1229" y="307" width="5" height="28"/><rect x="1243" y="330" width="5" height="2.6"/><rect x="1256" y="310" width="5" height="7.6"/><rect x="1263" y="317" width="5" height="13"/><rect x="1269" y="328" width="5" height="17.6"/><rect x="1276" y="344" width="5" height="4"/><rect x="1303" y="314" width="5" height="54.6"/><rect x="1336" y="323" width="5" height="26.6"/></g></g>
<line x1="10" y1="341.5" x2="1759" y2="341.5" stroke="#089981" stroke-width="1" stroke-dasharray="1 2"/>
<circle cx="1345.5" cy="555.4" r="11.2" fill="#fff"/><circle cx="1345.5" cy="555.4" r="9.7" fill="#fff" stroke="#9c27b0" stroke-width="1.5"/><polygon points="1347.8,550.1 1349.4,550.4 1346,554.8 1350.1,555.25 1343.4,561.1 1341.8,560.4 1345.3,556.2 1340.9,555.65" fill="#9c27b0"/>
<g clip-path="url(#cpRsi)"><rect x="10" y="598.4" width="1749" height="59.1" fill="rgba(126,87,194,0.1)"/></g>
<path d="M1356.6 620.2 L1533.1 620.2 Q1539.6 620.2 1539.6 626.7 L1539.6 647.3 Q1539.6 653.8 1533.1 653.8 L1356.6 653.8 Q1350.1 653.8 1350.1 647.3 L1350.1 644.1 L1318.5 635.6 L1350.1 628.5 L1350.1 626.7 Q1350.1 620.2 1356.6 620.2 Z" fill="rgba(245,226,87,0.5)"/><path d="M1359.2 692.3 L1530.6 692.3 Q1537.1 692.3 1537.1 698.8 L1537.1 719.5 Q1537.1 726 1530.6 726 L1360 726 L1330.6 731 L1352.7 718.2 L1352.7 698.8 Q1352.7 692.3 1359.2 692.3 Z" fill="rgba(76,175,80,0.42)"/><path d="M1444.2 799.9 L1499 799.9 Q1505.5 799.9 1505.5 806.4 L1505.5 827.1 Q1505.5 833.6 1499 833.6 L1444.2 833.6 Q1437.7 833.6 1437.7 827.1 L1437.7 824.8 L1324.9 821.5 L1437.7 809.1 L1437.7 806.4 Q1437.7 799.9 1444.2 799.9 Z" fill="rgba(242,54,69,0.42)"/>
<text x="1360.5" y="640.9" font-size="14" fill="#131722" font-weight="700" textLength="169" lengthAdjust="spacingAndGlyphs">Neutral market sentiment</text><text x="1362.7" y="712.9" font-size="14" fill="#131722" font-weight="700" textLength="164.4" lengthAdjust="spacingAndGlyphs">Bullish market sentiment</text><text x="1448.1" y="820.8" font-size="14" fill="#131722" font-weight="700" textLength="47.3" lengthAdjust="spacingAndGlyphs">Bearish</text>
<g clip-path="url(#cpRsi)"><line x1="10" y1="598.4" x2="1759" y2="598.4" stroke="#4caf50" stroke-width="2.8" stroke-dasharray="15 18"/><line x1="10" y1="628.3" x2="1759" y2="628.3" stroke="#a98fdc" stroke-width="2.8" stroke-dasharray="15 18"/><line x1="10" y1="657.5" x2="1759" y2="657.5" stroke="#f23645" stroke-width="2.8" stroke-dasharray="15 18"/><polygon clip-path="url(#cpOB)" fill="rgba(76,175,80,0.13)" points="10.5,598.4 10.5,636.75 17.5,634.83 24.5,639.64 30.5,633.48 37.5,630.6 44.5,629.02 50.5,625.88 57.5,640.03 64.5,635.24 70.5,644.26 77.5,645.52 84.5,636.94 90.5,637.8 97.5,645.14 104.5,647.07 110.5,653.92 117.5,654.35 124.5,647.35 130.5,652.55 137.5,647.02 144.5,639 150.5,643.75 157.5,640.86 164.5,638.54 170.5,642.12 177.5,638.2 184.5,629.09 190.5,629.86 197.5,624.27 204.5,623.76 211.5,619.13 217.5,619.6 224.5,627.28 231.5,612.63 237.5,614.89 244.5,619.2 251.5,642.73 257.5,657.12 264.5,660.33 271.5,666.47 277.5,644.22 284.5,650.19 291.5,645.36 297.5,644.85 304.5,645.27 311.5,640.52 317.5,632.85 324.5,636.86 331.5,633 337.5,637.81 344.5,635.61 351.5,633.94 357.5,639.11 364.5,645.22 371.5,651.26 377.5,646.99 384.5,648.83 391.5,652.42 397.5,642.44 404.5,646.15 411.5,634.88 417.5,631.67 424.5,627.44 431.5,621.02 437.5,624.81 444.5,629.95 451.5,626.78 457.5,625.89 464.5,625.65 471.5,630.57 477.5,633.53 484.5,628.15 491.5,629.37 497.5,632.06 504.5,627.47 511.5,633.44 517.5,635.27 524.5,622.2 531.5,620.41 537.5,624.66 544.5,621.7 551.5,614.18 557.5,612.23 564.5,617.25 571.5,603.03 577.5,601.93 584.5,590.68 591.5,600.82 597.5,592.32 604.5,596.78 611.5,592.29 618.5,599.38 624.5,626.54 631.5,633.12 638.5,633.7 644.5,632.88 651.5,633.63 658.5,633.88 664.5,631.73 671.5,624.66 678.5,626.42 684.5,628.85 691.5,623.34 698.5,622.25 704.5,622.25 711.5,629.35 718.5,621.64 724.5,629.94 731.5,630.73 738.5,631.94 744.5,627.09 751.5,628.89 758.5,630.56 764.5,632.26 771.5,632.56 778.5,628.24 784.5,634.99 791.5,623.32 798.5,612.83 804.5,609.24 811.5,615.5 818.5,627.74 824.5,632.51 831.5,637.45 838.5,641.22 844.5,643.28 851.5,644.94 858.5,641.06 864.5,644.99 871.5,646.5 878.5,639.56 884.5,643.4 891.5,641.22 898.5,644.45 904.5,637.76 911.5,633.49 918.5,631.71 924.5,625.11 931.5,634.73 938.5,630.95 944.5,628.21 951.5,630.6 958.5,625.58 964.5,619.57 971.5,631.97 978.5,634.95 984.5,642.23 991.5,638.72 998.5,636.13 1004.5,629.01 1011.5,638.05 1018.5,635.37 1024.5,630.16 1031.5,623.39 1038.5,627.47 1045.5,629.35 1051.5,635.82 1058.5,636.13 1065.5,626.25 1071.5,619.25 1078.5,617.14 1085.5,617.98 1091.5,632.52 1098.5,636.67 1105.5,640.21 1111.5,646.38 1118.5,646.21 1125.5,637.24 1131.5,635.34 1138.5,634.39 1145.5,639.69 1151.5,655.16 1158.5,645.45 1165.5,649.61 1171.5,648.55 1178.5,654.41 1185.5,652.05 1191.5,653.45 1198.5,647.65 1205.5,634.65 1211.5,620.99 1218.5,623.36 1225.5,622.98 1231.5,631.07 1238.5,629.56 1245.5,630.34 1251.5,626.24 1258.5,625.44 1265.5,629.82 1271.5,634.95 1278.5,635.72 1285.5,632.84 1291.5,630.76 1298.5,622.14 1305.5,640.3 1311.5,639.33 1318.5,629.64 1325.5,630.29 1331.5,624.11 1338.5,632.95 1345.5,629.96 1345.5,598.4"/><polygon clip-path="url(#cpOS)" fill="rgba(242,54,69,0.13)" points="10.5,657.5 10.5,636.75 17.5,634.83 24.5,639.64 30.5,633.48 37.5,630.6 44.5,629.02 50.5,625.88 57.5,640.03 64.5,635.24 70.5,644.26 77.5,645.52 84.5,636.94 90.5,637.8 97.5,645.14 104.5,647.07 110.5,653.92 117.5,654.35 124.5,647.35 130.5,652.55 137.5,647.02 144.5,639 150.5,643.75 157.5,640.86 164.5,638.54 170.5,642.12 177.5,638.2 184.5,629.09 190.5,629.86 197.5,624.27 204.5,623.76 211.5,619.13 217.5,619.6 224.5,627.28 231.5,612.63 237.5,614.89 244.5,619.2 251.5,642.73 257.5,657.12 264.5,660.33 271.5,666.47 277.5,644.22 284.5,650.19 291.5,645.36 297.5,644.85 304.5,645.27 311.5,640.52 317.5,632.85 324.5,636.86 331.5,633 337.5,637.81 344.5,635.61 351.5,633.94 357.5,639.11 364.5,645.22 371.5,651.26 377.5,646.99 384.5,648.83 391.5,652.42 397.5,642.44 404.5,646.15 411.5,634.88 417.5,631.67 424.5,627.44 431.5,621.02 437.5,624.81 444.5,629.95 451.5,626.78 457.5,625.89 464.5,625.65 471.5,630.57 477.5,633.53 484.5,628.15 491.5,629.37 497.5,632.06 504.5,627.47 511.5,633.44 517.5,635.27 524.5,622.2 531.5,620.41 537.5,624.66 544.5,621.7 551.5,614.18 557.5,612.23 564.5,617.25 571.5,603.03 577.5,601.93 584.5,590.68 591.5,600.82 597.5,592.32 604.5,596.78 611.5,592.29 618.5,599.38 624.5,626.54 631.5,633.12 638.5,633.7 644.5,632.88 651.5,633.63 658.5,633.88 664.5,631.73 671.5,624.66 678.5,626.42 684.5,628.85 691.5,623.34 698.5,622.25 704.5,622.25 711.5,629.35 718.5,621.64 724.5,629.94 731.5,630.73 738.5,631.94 744.5,627.09 751.5,628.89 758.5,630.56 764.5,632.26 771.5,632.56 778.5,628.24 784.5,634.99 791.5,623.32 798.5,612.83 804.5,609.24 811.5,615.5 818.5,627.74 824.5,632.51 831.5,637.45 838.5,641.22 844.5,643.28 851.5,644.94 858.5,641.06 864.5,644.99 871.5,646.5 878.5,639.56 884.5,643.4 891.5,641.22 898.5,644.45 904.5,637.76 911.5,633.49 918.5,631.71 924.5,625.11 931.5,634.73 938.5,630.95 944.5,628.21 951.5,630.6 958.5,625.58 964.5,619.57 971.5,631.97 978.5,634.95 984.5,642.23 991.5,638.72 998.5,636.13 1004.5,629.01 1011.5,638.05 1018.5,635.37 1024.5,630.16 1031.5,623.39 1038.5,627.47 1045.5,629.35 1051.5,635.82 1058.5,636.13 1065.5,626.25 1071.5,619.25 1078.5,617.14 1085.5,617.98 1091.5,632.52 1098.5,636.67 1105.5,640.21 1111.5,646.38 1118.5,646.21 1125.5,637.24 1131.5,635.34 1138.5,634.39 1145.5,639.69 1151.5,655.16 1158.5,645.45 1165.5,649.61 1171.5,648.55 1178.5,654.41 1185.5,652.05 1191.5,653.45 1198.5,647.65 1205.5,634.65 1211.5,620.99 1218.5,623.36 1225.5,622.98 1231.5,631.07 1238.5,629.56 1245.5,630.34 1251.5,626.24 1258.5,625.44 1265.5,629.82 1271.5,634.95 1278.5,635.72 1285.5,632.84 1291.5,630.76 1298.5,622.14 1305.5,640.3 1311.5,639.33 1318.5,629.64 1325.5,630.29 1331.5,624.11 1338.5,632.95 1345.5,629.96 1345.5,657.5"/><polyline fill="none" stroke="#fdd835" stroke-width="1.25" stroke-linejoin="round" points="10.5,634.23 17.5,634.28 24.5,634.68 30.5,634.64 37.5,634.4 44.5,634.04 50.5,633.46 57.5,633.89 64.5,633.97 70.5,634.7 77.5,635.52 84.5,635.73 90.5,636 97.5,636.79 104.5,637.53 110.5,638.9 117.5,639.95 124.5,640.94 130.5,642.51 137.5,643.79 144.5,644.73 150.5,644.99 157.5,645.4 164.5,644.99 170.5,644.75 177.5,644.84 184.5,644.21 190.5,643.12 197.5,641.49 204.5,639.34 211.5,636.82 217.5,634.84 224.5,633.03 231.5,630.58 237.5,628.86 244.5,627.1 251.5,627.24 257.5,628.56 264.5,629.86 271.5,631.88 277.5,632.96 284.5,634.42 291.5,635.92 297.5,637.43 304.5,639.3 311.5,640.79 317.5,641.19 324.5,642.92 331.5,644.21 337.5,645.54 344.5,645.03 351.5,643.38 357.5,641.86 364.5,640.34 371.5,640.85 377.5,640.62 384.5,640.87 391.5,641.41 397.5,641.2 404.5,641.61 411.5,641.75 417.5,641.38 424.5,640.98 431.5,639.78 437.5,639.01 444.5,638.73 451.5,637.85 457.5,636.47 464.5,634.64 471.5,633.46 477.5,632.37 484.5,630.64 491.5,629.7 497.5,628.7 504.5,628.17 511.5,628.29 517.5,628.85 524.5,628.94 531.5,628.62 537.5,628.25 544.5,627.88 551.5,627.05 557.5,626.09 564.5,625.14 571.5,622.96 577.5,621.09 584.5,618.32 591.5,616.09 597.5,613.58 604.5,610.96 611.5,607.89 618.5,606.26 624.5,606.7 631.5,607.3 638.5,608.16 644.5,609.5 651.5,611.03 658.5,612.21 664.5,614.26 671.5,615.89 678.5,618.44 684.5,620.44 691.5,622.66 698.5,624.48 704.5,626.62 711.5,628.76 718.5,628.41 724.5,628.18 731.5,627.97 738.5,627.9 744.5,627.43 751.5,627.08 758.5,626.99 764.5,627.54 771.5,627.98 778.5,627.93 784.5,628.76 791.5,628.84 798.5,628.17 804.5,626.73 811.5,626.29 818.5,626.13 824.5,626.26 831.5,626.66 838.5,627.66 844.5,628.69 851.5,629.72 858.5,630.35 864.5,631.24 871.5,632.54 878.5,632.87 884.5,634.3 891.5,636.33 898.5,638.84 904.5,640.43 911.5,640.85 918.5,640.79 924.5,639.91 931.5,639.44 938.5,638.56 944.5,637.37 951.5,636.62 958.5,635.23 964.5,633.31 971.5,632.77 978.5,632.16 984.5,632.24 991.5,631.83 998.5,631.71 1004.5,631.39 1011.5,631.84 1018.5,632.58 1024.5,632.25 1031.5,631.71 1038.5,631.66 1045.5,631.57 1051.5,632.3 1058.5,633.48 1065.5,633.07 1071.5,631.95 1078.5,630.16 1085.5,628.68 1091.5,628.42 1098.5,628.97 1105.5,629.12 1111.5,629.91 1118.5,631.06 1125.5,632.04 1131.5,632.61 1138.5,632.97 1145.5,633.24 1151.5,634.6 1158.5,635.97 1165.5,638.14 1171.5,640.39 1178.5,642.99 1185.5,644.38 1191.5,645.58 1198.5,646.11 1205.5,645.28 1211.5,643.47 1218.5,642.48 1225.5,641.6 1231.5,641.36 1238.5,640.64 1245.5,638.87 1251.5,637.49 1258.5,635.77 1265.5,634.43 1271.5,633.04 1278.5,631.87 1285.5,630.4 1291.5,629.19 1298.5,628.3 1305.5,629.68 1311.5,630.82 1318.5,631.3 1325.5,631.24 1331.5,630.85 1338.5,631.04 1345.5,631.3"/><polyline fill="none" stroke="#000" stroke-width="2" stroke-linejoin="round" points="10.5,636.75 17.5,634.83 24.5,639.64 30.5,633.48 37.5,630.6 44.5,629.02 50.5,625.88 57.5,640.03 64.5,635.24 70.5,644.26 77.5,645.52 84.5,636.94 90.5,637.8 97.5,645.14 104.5,647.07 110.5,653.92 117.5,654.35 124.5,647.35 130.5,652.55 137.5,647.02 144.5,639 150.5,643.75 157.5,640.86 164.5,638.54 170.5,642.12 177.5,638.2 184.5,629.09 190.5,629.86 197.5,624.27 204.5,623.76 211.5,619.13 217.5,619.6 224.5,627.28 231.5,612.63 237.5,614.89 244.5,619.2 251.5,642.73 257.5,657.12 264.5,660.33 271.5,666.47 277.5,644.22 284.5,650.19 291.5,645.36 297.5,644.85 304.5,645.27 311.5,640.52 317.5,632.85 324.5,636.86 331.5,633 337.5,637.81 344.5,635.61 351.5,633.94 357.5,639.11 364.5,645.22 371.5,651.26 377.5,646.99 384.5,648.83 391.5,652.42 397.5,642.44 404.5,646.15 411.5,634.88 417.5,631.67 424.5,627.44 431.5,621.02 437.5,624.81 444.5,629.95 451.5,626.78 457.5,625.89 464.5,625.65 471.5,630.57 477.5,633.53 484.5,628.15 491.5,629.37 497.5,632.06 504.5,627.47 511.5,633.44 517.5,635.27 524.5,622.2 531.5,620.41 537.5,624.66 544.5,621.7 551.5,614.18 557.5,612.23 564.5,617.25 571.5,603.03 577.5,601.93 584.5,590.68 591.5,600.82 597.5,592.32 604.5,596.78 611.5,592.29 618.5,599.38 624.5,626.54 631.5,633.12 638.5,633.7 644.5,632.88 651.5,633.63 658.5,633.88 664.5,631.73 671.5,624.66 678.5,626.42 684.5,628.85 691.5,623.34 698.5,622.25 704.5,622.25 711.5,629.35 718.5,621.64 724.5,629.94 731.5,630.73 738.5,631.94 744.5,627.09 751.5,628.89 758.5,630.56 764.5,632.26 771.5,632.56 778.5,628.24 784.5,634.99 791.5,623.32 798.5,612.83 804.5,609.24 811.5,615.5 818.5,627.74 824.5,632.51 831.5,637.45 838.5,641.22 844.5,643.28 851.5,644.94 858.5,641.06 864.5,644.99 871.5,646.5 878.5,639.56 884.5,643.4 891.5,641.22 898.5,644.45 904.5,637.76 911.5,633.49 918.5,631.71 924.5,625.11 931.5,634.73 938.5,630.95 944.5,628.21 951.5,630.6 958.5,625.58 964.5,619.57 971.5,631.97 978.5,634.95 984.5,642.23 991.5,638.72 998.5,636.13 1004.5,629.01 1011.5,638.05 1018.5,635.37 1024.5,630.16 1031.5,623.39 1038.5,627.47 1045.5,629.35 1051.5,635.82 1058.5,636.13 1065.5,626.25 1071.5,619.25 1078.5,617.14 1085.5,617.98 1091.5,632.52 1098.5,636.67 1105.5,640.21 1111.5,646.38 1118.5,646.21 1125.5,637.24 1131.5,635.34 1138.5,634.39 1145.5,639.69 1151.5,655.16 1158.5,645.45 1165.5,649.61 1171.5,648.55 1178.5,654.41 1185.5,652.05 1191.5,653.45 1198.5,647.65 1205.5,634.65 1211.5,620.99 1218.5,623.36 1225.5,622.98 1231.5,631.07 1238.5,629.56 1245.5,630.34 1251.5,626.24 1258.5,625.44 1265.5,629.82 1271.5,634.95 1278.5,635.72 1285.5,632.84 1291.5,630.76 1298.5,622.14 1305.5,640.3 1311.5,639.33 1318.5,629.64 1325.5,630.29 1331.5,624.11 1338.5,632.95 1345.5,629.96"/></g>
<g clip-path="url(#cpMacd)"><g fill="#26a69a"><rect x="48" y="733.41" width="5" height="1.19"/><rect x="161" y="733.98" width="6" height="0.62"/><rect x="168" y="733.1" width="5" height="1.5"/><rect x="174" y="730.79" width="6" height="3.81"/><rect x="181" y="725.66" width="6" height="8.94"/><rect x="188" y="722.76" width="5" height="11.84"/><rect x="194" y="718.94" width="6" height="15.66"/><rect x="201" y="716.76" width="6" height="17.84"/><rect x="208" y="714.13" width="5" height="20.47"/><rect x="214" y="713.38" width="6" height="21.22"/><rect x="228" y="712.58" width="5" height="22.02"/><rect x="234" y="712.03" width="6" height="22.57"/><rect x="328" y="728.79" width="5" height="5.81"/><rect x="334" y="728.14" width="6" height="6.46"/><rect x="341" y="726.18" width="6" height="8.42"/><rect x="348" y="723.84" width="5" height="10.76"/><rect x="415" y="727.54" width="5" height="7.06"/><rect x="421" y="720.09" width="6" height="14.51"/><rect x="428" y="711.37" width="6" height="23.23"/><rect x="435" y="708.71" width="5" height="25.89"/><rect x="501" y="726.29" width="6" height="8.31"/><rect x="521" y="728.07" width="6" height="6.53"/><rect x="528" y="724.84" width="6" height="9.76"/><rect x="541" y="724.12" width="6" height="10.48"/><rect x="548" y="720.24" width="6" height="14.36"/><rect x="555" y="717.46" width="5" height="17.14"/><rect x="568" y="711.14" width="6" height="23.46"/><rect x="575" y="707.06" width="5" height="27.54"/><rect x="581" y="695.38" width="6" height="39.22"/><rect x="588" y="694.6" width="6" height="40"/><rect x="595" y="686.88" width="5" height="47.72"/><rect x="608" y="684.61" width="6" height="49.99"/><rect x="795" y="729.05" width="5" height="5.55"/><rect x="801" y="721.49" width="6" height="13.11"/><rect x="808" y="720.02" width="6" height="14.58"/><rect x="915" y="734.07" width="6" height="0.6"/><rect x="922" y="728.62" width="5" height="5.98"/><rect x="935" y="728.1" width="6" height="6.5"/><rect x="942" y="726.4" width="5" height="8.2"/><rect x="955" y="724.77" width="6" height="9.83"/><rect x="962" y="721.58" width="5" height="13.02"/><rect x="1002" y="734.44" width="5" height="0.6"/><rect x="1022" y="734.42" width="5" height="0.6"/><rect x="1028" y="730.09" width="6" height="4.51"/><rect x="1035" y="729.04" width="6" height="5.56"/><rect x="1062" y="731.74" width="5" height="2.86"/><rect x="1068" y="727.31" width="6" height="7.29"/><rect x="1075" y="723.86" width="6" height="10.74"/><rect x="1082" y="722.44" width="5" height="12.16"/><rect x="1208" y="728.47" width="6" height="6.13"/><rect x="1215" y="721.86" width="6" height="12.74"/><rect x="1222" y="717.77" width="5" height="16.83"/><rect x="1249" y="720.63" width="5" height="13.97"/><rect x="1255" y="720.53" width="6" height="14.07"/><rect x="1295" y="727.49" width="6" height="7.11"/><rect x="1315" y="734.23" width="6" height="0.6"/><rect x="1322" y="733.34" width="6" height="1.26"/><rect x="1329" y="730.45" width="5" height="4.15"/><rect x="1342" y="732.02" width="6" height="2.58"/></g><g fill="#b2dfdb"><rect x="221" y="716.21" width="6" height="18.39"/><rect x="241" y="714.14" width="6" height="20.46"/><rect x="248" y="727.04" width="5" height="7.56"/><rect x="354" y="725.8" width="6" height="8.8"/><rect x="361" y="731.45" width="6" height="3.15"/><rect x="441" y="710.95" width="6" height="23.65"/><rect x="448" y="711.25" width="6" height="23.35"/><rect x="455" y="711.72" width="5" height="22.88"/><rect x="461" y="712.71" width="6" height="21.89"/><rect x="468" y="716.67" width="6" height="17.93"/><rect x="475" y="721.38" width="5" height="13.22"/><rect x="481" y="722.24" width="6" height="12.36"/><rect x="488" y="723.78" width="6" height="10.82"/><rect x="495" y="726.39" width="5" height="8.21"/><rect x="508" y="729.25" width="6" height="5.35"/><rect x="515" y="732.11" width="5" height="2.49"/><rect x="535" y="724.99" width="5" height="9.61"/><rect x="561" y="718.44" width="6" height="16.16"/><rect x="601" y="687.07" width="6" height="47.53"/><rect x="615" y="689.77" width="5" height="44.83"/><rect x="621" y="713.85" width="6" height="20.75"/><rect x="815" y="725.72" width="5" height="8.88"/><rect x="821" y="732.47" width="6" height="2.13"/><rect x="928" y="729.21" width="6" height="5.39"/><rect x="948" y="726.44" width="6" height="8.16"/><rect x="968" y="724.85" width="6" height="9.75"/><rect x="975" y="728.56" width="6" height="6.04"/><rect x="982" y="734.55" width="5" height="0.6"/><rect x="1042" y="729.26" width="5" height="5.34"/><rect x="1048" y="732.2" width="6" height="2.4"/><rect x="1055" y="734.16" width="6" height="0.6"/><rect x="1088" y="727.45" width="6" height="7.15"/><rect x="1095" y="732.74" width="6" height="1.86"/><rect x="1228" y="719.16" width="6" height="15.44"/><rect x="1235" y="719.85" width="6" height="14.75"/><rect x="1242" y="721.05" width="6" height="13.55"/><rect x="1262" y="722.54" width="6" height="12.06"/><rect x="1269" y="726.17" width="5" height="8.43"/><rect x="1275" y="728.99" width="6" height="5.61"/><rect x="1282" y="730.02" width="6" height="4.58"/><rect x="1289" y="730.11" width="5" height="4.49"/><rect x="1302" y="732.86" width="6" height="1.74"/><rect x="1335" y="732.06" width="6" height="2.54"/></g><g fill="#ff5252"><rect x="8" y="734.6" width="5" height="12.71"/><rect x="21" y="734.6" width="6" height="11.66"/><rect x="54" y="734.6" width="6" height="2.83"/><rect x="61" y="734.6" width="6" height="3.21"/><rect x="68" y="734.6" width="5" height="7.99"/><rect x="74" y="734.6" width="6" height="11.15"/><rect x="94" y="734.6" width="6" height="9.9"/><rect x="101" y="734.6" width="6" height="11.74"/><rect x="108" y="734.6" width="5" height="16.43"/><rect x="114" y="734.6" width="6" height="18.5"/><rect x="128" y="734.6" width="5" height="16.71"/><rect x="254" y="734.6" width="6" height="12.07"/><rect x="261" y="734.6" width="6" height="26.97"/><rect x="268" y="734.6" width="5" height="42.28"/><rect x="281" y="734.6" width="6" height="39.13"/><rect x="368" y="734.6" width="5" height="5.19"/><rect x="374" y="734.6" width="6" height="7.49"/><rect x="381" y="734.6" width="6" height="9.47"/><rect x="388" y="734.6" width="5" height="12.67"/><rect x="628" y="734.6" width="6" height="2.24"/><rect x="635" y="734.6" width="5" height="17.89"/><rect x="641" y="734.6" width="6" height="26.92"/><rect x="648" y="734.6" width="6" height="32.5"/><rect x="655" y="734.6" width="5" height="35.13"/><rect x="708" y="734.6" width="6" height="9.74"/><rect x="721" y="734.6" width="6" height="8.1"/><rect x="728" y="734.6" width="6" height="9.69"/><rect x="735" y="734.6" width="5" height="11.02"/><rect x="755" y="734.6" width="5" height="8.22"/><rect x="761" y="734.6" width="6" height="8.71"/><rect x="768" y="734.6" width="6" height="8.75"/><rect x="781" y="734.6" width="6" height="7.92"/><rect x="828" y="734.6" width="6" height="5.21"/><rect x="835" y="734.6" width="6" height="11.98"/><rect x="842" y="734.6" width="5" height="16.97"/><rect x="848" y="734.6" width="6" height="20.28"/><rect x="862" y="734.6" width="5" height="20.61"/><rect x="868" y="734.6" width="6" height="20.86"/><rect x="988" y="734.6" width="6" height="2.31"/><rect x="995" y="734.6" width="6" height="2.59"/><rect x="1008" y="734.6" width="6" height="1.96"/><rect x="1015" y="734.6" width="6" height="2.02"/><rect x="1102" y="734.6" width="5" height="3.15"/><rect x="1108" y="734.6" width="6" height="9.17"/><rect x="1115" y="734.6" width="6" height="12.34"/><rect x="1142" y="734.6" width="5" height="6.18"/><rect x="1148" y="734.6" width="6" height="14.05"/><rect x="1155" y="734.6" width="6" height="14.79"/><rect x="1162" y="734.6" width="5" height="16.78"/><rect x="1175" y="734.6" width="6" height="18.89"/><rect x="1309" y="734.6" width="5" height="1.27"/></g><g fill="#ffcdd2"><rect x="14" y="734.6" width="6" height="10.99"/><rect x="28" y="734.6" width="5" height="8.97"/><rect x="34" y="734.6" width="6" height="5.53"/><rect x="41" y="734.6" width="6" height="2.32"/><rect x="81" y="734.6" width="6" height="9.08"/><rect x="88" y="734.6" width="5" height="7.53"/><rect x="121" y="734.6" width="6" height="16.16"/><rect x="134" y="734.6" width="6" height="13.87"/><rect x="141" y="734.6" width="6" height="7.97"/><rect x="148" y="734.6" width="5" height="5.96"/><rect x="154" y="734.6" width="6" height="2.83"/><rect x="274" y="734.6" width="6" height="37.9"/><rect x="288" y="734.6" width="5" height="34.46"/><rect x="294" y="734.6" width="6" height="28.91"/><rect x="301" y="734.6" width="6" height="23.73"/><rect x="308" y="734.6" width="5" height="15.97"/><rect x="314" y="734.6" width="6" height="5.03"/><rect x="321" y="734.6" width="6" height="0.6"/><rect x="394" y="734.6" width="6" height="8.62"/><rect x="401" y="734.6" width="6" height="7.86"/><rect x="408" y="734.6" width="6" height="0.6"/><rect x="661" y="734.6" width="6" height="34.16"/><rect x="668" y="734.6" width="6" height="27.58"/><rect x="675" y="734.6" width="5" height="23.54"/><rect x="681" y="734.6" width="6" height="21.66"/><rect x="688" y="734.6" width="6" height="16.21"/><rect x="695" y="734.6" width="5" height="11.52"/><rect x="701" y="734.6" width="6" height="8.24"/><rect x="715" y="734.6" width="5" height="5.93"/><rect x="741" y="734.6" width="6" height="8.94"/><rect x="748" y="734.6" width="6" height="8.2"/><rect x="775" y="734.6" width="5" height="6.63"/><rect x="788" y="734.6" width="6" height="3.31"/><rect x="855" y="734.6" width="6" height="19.75"/><rect x="875" y="734.6" width="6" height="17.21"/><rect x="882" y="734.6" width="5" height="15.9"/><rect x="888" y="734.6" width="6" height="13.23"/><rect x="895" y="734.6" width="6" height="12.27"/><rect x="902" y="734.6" width="5" height="8.4"/><rect x="908" y="734.6" width="6" height="3.63"/><rect x="1122" y="734.6" width="5" height="10.72"/><rect x="1128" y="734.6" width="6" height="8.38"/><rect x="1135" y="734.6" width="6" height="6.02"/><rect x="1168" y="734.6" width="6" height="16.52"/><rect x="1182" y="734.6" width="5" height="18.29"/><rect x="1188" y="734.6" width="6" height="17.42"/><rect x="1195" y="734.6" width="6" height="13.78"/><rect x="1202" y="734.6" width="5" height="5.81"/></g><line x1="10" y1="734.5" x2="1759" y2="734.5" stroke="#5d606b" stroke-width="1" stroke-dasharray="5.5 5.5"/><polyline fill="none" stroke="#3d45ff" stroke-width="1.35" stroke-linejoin="round" points="10.5,752.83 17.5,753.86 24.5,757.44 30.5,756.99 37.5,754.93 44.5,752.3 50.5,748.5 57.5,753.23 64.5,754.41 70.5,761.19 77.5,767.13 84.5,767.33 90.5,767.67 97.5,772.51 104.5,777.29 110.5,786.09 117.5,792.77 124.5,794.48 130.5,799.2 137.5,799.83 144.5,795.92 150.5,795.4 157.5,792.99 164.5,789.38 170.5,788.12 177.5,784.86 184.5,777.5 190.5,771.63 197.5,763.9 204.5,757.26 211.5,749.52 217.5,743.46 224.5,741.69 231.5,732.56 237.5,726.36 244.5,723.36 251.5,734.37 257.5,757.02 264.5,778.66 271.5,804.53 277.5,809.63 284.5,820.65 291.5,824.59 297.5,826.27 304.5,827.02 311.5,823.25 317.5,813.57 324.5,808.8 331.5,801.33 337.5,799.06 344.5,794.99 351.5,789.97 357.5,789.72 364.5,794.59 371.5,804.23 377.5,808.4 384.5,812.75 391.5,819.11 397.5,817.21 404.5,818.42 411.5,810.92 417.5,801.81 424.5,790.73 431.5,776.21 437.5,767.07 444.5,763.4 451.5,757.86 457.5,752.61 464.5,748.12 471.5,747.61 477.5,749.02 484.5,746.78 491.5,745.62 497.5,746.18 504.5,744 511.5,745.62 517.5,747.86 524.5,742.19 531.5,736.51 537.5,734.26 544.5,730.77 551.5,723.3 557.5,716.23 564.5,713.18 571.5,700.01 577.5,689.04 584.5,667.57 591.5,656.78 597.5,637.13 604.5,625.44 611.5,610.48 618.5,604.44 624.5,623.33 631.5,646.88 638.5,667 644.5,682.76 651.5,696.47 658.5,707.88 664.5,715.45 671.5,715.76 678.5,717.61 684.5,721.14 691.5,719.74 698.5,717.94 704.5,716.72 711.5,720.64 718.5,718.32 724.5,722.52 731.5,726.53 738.5,730.61 744.5,730.78 751.5,732.08 758.5,734.16 764.5,736.82 771.5,739.05 778.5,738.59 784.5,741.86 791.5,738.07 798.5,727.83 804.5,716.99 811.5,711.88 818.5,715.36 824.5,721.58 831.5,730.22 838.5,739.98 844.5,749.22 851.5,757.6 858.5,762 864.5,768.01 871.5,773.48 878.5,774.13 884.5,776.79 891.5,777.43 898.5,779.54 904.5,777.77 911.5,773.91 918.5,769.61 924.5,762.68 931.5,761.91 938.5,759.18 944.5,755.43 951.5,753.42 958.5,749.3 964.5,742.86 971.5,743.69 978.5,745.89 984.5,751.87 991.5,754.8 998.5,755.74 1004.5,752.95 1011.5,755.55 1018.5,756.12 1024.5,753.88 1031.5,748.42 1038.5,745.98 1045.5,744.86 1051.5,747.2 1058.5,749.06 1065.5,745.92 1071.5,739.67 1078.5,733.53 1085.5,729.06 1091.5,732.29 1098.5,737.12 1105.5,742.91 1111.5,751.22 1118.5,757.49 1125.5,758.54 1131.5,758.3 1138.5,757.45 1145.5,759.15 1151.5,770.53 1158.5,774.97 1165.5,781.15 1171.5,785.02 1178.5,792.11 1185.5,796.08 1191.5,799.57 1198.5,799.38 1205.5,792.86 1211.5,779.38 1218.5,769.59 1225.5,761.3 1231.5,758.82 1238.5,755.82 1245.5,753.64 1251.5,749.73 1258.5,746.12 1265.5,745.11 1271.5,746.63 1278.5,748.05 1285.5,747.93 1291.5,746.9 1298.5,742.5 1305.5,747.44 1311.5,750.77 1318.5,749.03 1325.5,747.82 1331.5,743.9 1338.5,744.88 1345.5,744.19"/><polyline fill="none" stroke="#ffb300" stroke-width="1.35" stroke-linejoin="round" points="10.5,740.12 17.5,742.87 24.5,745.78 30.5,748.02 37.5,749.41 44.5,749.98 50.5,749.69 57.5,750.4 64.5,751.2 70.5,753.2 77.5,755.98 84.5,758.25 90.5,760.14 97.5,762.61 104.5,765.55 110.5,769.65 117.5,774.28 124.5,778.32 130.5,782.5 137.5,785.96 144.5,787.95 150.5,789.44 157.5,790.15 164.5,790 170.5,789.62 177.5,788.67 184.5,786.44 190.5,783.48 197.5,779.56 204.5,775.1 211.5,769.98 217.5,764.68 224.5,760.08 231.5,754.58 237.5,748.93 244.5,743.82 251.5,741.93 257.5,744.95 264.5,751.69 271.5,762.26 277.5,771.73 284.5,781.51 291.5,790.13 297.5,797.36 304.5,803.29 311.5,807.28 317.5,808.54 324.5,808.59 331.5,807.14 337.5,805.52 344.5,803.42 351.5,800.73 357.5,798.53 364.5,797.74 371.5,799.04 377.5,800.91 384.5,803.28 391.5,806.44 397.5,808.6 404.5,810.56 411.5,810.63 417.5,808.87 424.5,805.24 431.5,799.44 437.5,792.96 444.5,787.05 451.5,781.21 457.5,775.49 464.5,770.02 471.5,765.54 477.5,762.23 484.5,759.14 491.5,756.44 497.5,754.39 504.5,752.31 511.5,750.97 517.5,750.35 524.5,748.72 531.5,746.27 537.5,743.87 544.5,741.25 551.5,737.66 557.5,733.38 564.5,729.34 571.5,723.47 577.5,716.59 584.5,706.78 591.5,696.78 597.5,684.85 604.5,672.97 611.5,660.47 618.5,649.26 624.5,644.08 631.5,644.64 638.5,649.11 644.5,655.84 651.5,663.97 658.5,672.75 664.5,681.29 671.5,688.18 678.5,694.07 684.5,699.48 691.5,703.53 698.5,706.42 704.5,708.48 711.5,710.91 718.5,712.39 724.5,714.42 731.5,716.84 738.5,719.6 744.5,721.83 751.5,723.88 758.5,725.94 764.5,728.11 771.5,730.3 778.5,731.96 784.5,733.94 791.5,734.77 798.5,733.38 804.5,730.1 811.5,726.46 818.5,724.24 824.5,723.7 831.5,725.01 838.5,728 844.5,732.25 851.5,737.32 858.5,742.25 864.5,747.4 871.5,752.62 878.5,756.92 884.5,760.9 891.5,764.2 898.5,767.27 904.5,769.37 911.5,770.28 918.5,770.14 924.5,768.65 931.5,767.3 938.5,765.68 944.5,763.63 951.5,761.59 958.5,759.13 964.5,755.88 971.5,753.44 978.5,751.93 984.5,751.92 991.5,752.49 998.5,753.14 1004.5,753.1 1011.5,753.59 1018.5,754.1 1024.5,754.06 1031.5,752.93 1038.5,751.54 1045.5,750.2 1051.5,749.6 1058.5,749.49 1065.5,748.78 1071.5,746.96 1078.5,744.27 1085.5,741.23 1091.5,739.44 1098.5,738.98 1105.5,739.76 1111.5,742.06 1118.5,745.14 1125.5,747.82 1131.5,749.92 1138.5,751.42 1145.5,752.97 1151.5,756.48 1158.5,760.18 1165.5,764.37 1171.5,768.5 1178.5,773.22 1185.5,777.8 1191.5,782.15 1198.5,785.6 1205.5,787.05 1211.5,785.52 1218.5,782.33 1225.5,778.13 1231.5,774.26 1238.5,770.58 1245.5,767.19 1251.5,763.7 1258.5,760.18 1265.5,757.17 1271.5,755.06 1278.5,753.66 1285.5,752.51 1291.5,751.39 1298.5,749.61 1305.5,749.18 1311.5,749.49 1318.5,749.4 1325.5,749.09 1331.5,748.05 1338.5,747.41 1345.5,746.77"/></g>
<g clip-path="url(#cpAdx)"><line x1="10" y1="837.5" x2="1759" y2="837.5" stroke="#2a2e39" stroke-width="1.1" stroke-dasharray="5.5 5.5"/><polyline fill="none" stroke="#4caf50" stroke-width="1.2" stroke-linejoin="round" points="10.5,840.34 17.5,842.34 24.5,840.25 30.5,842.14 37.5,837.6 44.5,831.73 50.5,832.48 57.5,837.72 64.5,839.27 70.5,843.29 77.5,844.61 84.5,837.36 90.5,839.25 97.5,843.32 104.5,845.55 110.5,848.89 117.5,850.31 124.5,842.89 130.5,845.15 137.5,847.23 144.5,843.41 150.5,844.47 157.5,845.61 164.5,840.25 170.5,843.09 177.5,844.76 184.5,839.63 190.5,838.87 197.5,835.58 204.5,834.85 211.5,832.57 217.5,834.3 224.5,836.59 231.5,827.74 237.5,827.97 244.5,831.66 251.5,839.43 257.5,846.77 264.5,850.75 271.5,853.27 277.5,857.09 284.5,857.47 291.5,858.33 297.5,855.24 304.5,855.78 311.5,853.59 317.5,845.75 324.5,847.24 331.5,844.89 337.5,847.35 344.5,848.23 351.5,849.32 357.5,850.84 364.5,852.16 371.5,853.69 377.5,855.41 384.5,854.71 391.5,856.3 397.5,846.83 404.5,846.64 411.5,848.52 417.5,843.74 424.5,834.77 431.5,835.72 437.5,836.76 444.5,839.45 451.5,840.91 457.5,839.79 464.5,841 471.5,835.21 477.5,837.06 484.5,839.24 491.5,838.75 497.5,840.43 504.5,836.97 511.5,837.03 517.5,839.51 524.5,831.22 531.5,833.28 537.5,835.75 544.5,837.64 551.5,835.18 557.5,833.36 564.5,830.77 571.5,823.84 577.5,824.26 584.5,798.97 591.5,810.25 597.5,815.85 604.5,818.77 611.5,816.38 618.5,820.59 624.5,832.02 631.5,835.3 638.5,836.37 644.5,836.07 651.5,837.16 658.5,838.3 664.5,838.93 671.5,833.91 678.5,834.92 684.5,836.04 691.5,833.28 698.5,832.29 704.5,833.68 711.5,836.23 718.5,838.62 724.5,837.53 731.5,838.42 738.5,839.95 744.5,838 751.5,833.08 758.5,834.71 764.5,836.17 771.5,837.54 778.5,834.9 784.5,837.39 791.5,837.33 798.5,824.7 804.5,824.24 811.5,827.53 818.5,831.64 824.5,834.78 831.5,836.68 838.5,840.53 844.5,842.14 851.5,844.17 858.5,845.62 864.5,846.9 871.5,848.21 878.5,845.63 884.5,846.81 891.5,848.44 898.5,849.45 904.5,848.29 911.5,844.36 918.5,843.09 924.5,835.97 931.5,838.65 938.5,840.67 944.5,839.02 951.5,840.13 958.5,838.95 964.5,832.35 971.5,836.15 978.5,838.06 984.5,841.46 991.5,843.7 998.5,843.28 1004.5,841.27 1011.5,843.69 1018.5,846.74 1024.5,848.08 1031.5,841.67 1038.5,843.05 1045.5,844.75 1051.5,846.36 1058.5,848.13 1065.5,843.15 1071.5,836.15 1078.5,836.13 1085.5,830.3 1091.5,834.98 1098.5,837.08 1105.5,839.47 1111.5,842.66 1118.5,843.83 1125.5,840.48 1131.5,842.51 1138.5,837.65 1145.5,840.36 1151.5,845.34 1158.5,847.53 1165.5,849.8 1171.5,850.96 1178.5,852.7 1185.5,853.75 1191.5,854.96 1198.5,851.88 1205.5,840.17 1211.5,827.49 1218.5,827.72 1225.5,830.5 1231.5,833.43 1238.5,835.62 1245.5,837.42 1251.5,835.36 1258.5,835.74 1265.5,837.74 1271.5,840.25 1278.5,842.69 1285.5,844.25 1291.5,845.29 1298.5,840.39 1305.5,844.37 1311.5,845.73 1318.5,837.45 1325.5,839.18 1331.5,837.21 1338.5,840.45 1345.5,841.47"/><polyline fill="none" stroke="#ff5252" stroke-width="1.2" stroke-linejoin="round" points="10.5,835.07 17.5,830.06 24.5,833.26 30.5,833.54 37.5,835.77 44.5,838.04 50.5,840.58 57.5,830.5 64.5,831.87 70.5,825.16 77.5,824.46 84.5,828.74 90.5,831.09 97.5,825.91 104.5,819.89 110.5,814.42 117.5,817.89 124.5,822.79 130.5,823.79 137.5,823.97 144.5,827.48 150.5,830.39 157.5,832.1 164.5,834.37 170.5,833.57 177.5,832.85 184.5,835.89 190.5,837.51 197.5,839.72 204.5,841.52 211.5,843.16 217.5,844.43 224.5,843.68 231.5,847.63 237.5,848.83 244.5,846.09 251.5,818.21 257.5,796.57 264.5,800.15 271.5,802.73 277.5,803.81 284.5,811.36 291.5,814.86 297.5,817.75 304.5,819.45 311.5,822.97 317.5,825.99 324.5,827.36 331.5,829.56 337.5,828.17 344.5,829.73 351.5,830.35 357.5,830.88 364.5,825.55 371.5,817.69 377.5,814.66 384.5,818.21 391.5,810.55 397.5,815.49 404.5,819.41 411.5,822.81 417.5,825.04 424.5,828.7 431.5,831.65 437.5,832.81 444.5,823.46 451.5,825.63 457.5,828.22 464.5,829.86 471.5,833.93 477.5,829.68 484.5,830.88 491.5,832.2 497.5,828 504.5,830.75 511.5,834.54 517.5,831.73 524.5,836.12 531.5,837.94 537.5,838.25 544.5,840.01 551.5,842.3 557.5,843.59 564.5,845.29 571.5,848.83 577.5,850.68 584.5,855.61 591.5,858.2 597.5,859.8 604.5,860.75 611.5,861.7 618.5,860.96 624.5,841.91 631.5,834.61 638.5,835.7 644.5,837.16 651.5,838.21 658.5,837.98 664.5,839.09 671.5,841.13 678.5,841.95 684.5,840.59 691.5,843.1 698.5,844.44 704.5,845.42 711.5,840.35 718.5,842.47 724.5,844.87 731.5,843.09 738.5,839.3 744.5,840.84 751.5,842.57 758.5,839.09 764.5,837.35 771.5,837.99 778.5,839.35 784.5,838.79 791.5,841.56 798.5,845.21 804.5,847.23 811.5,848.95 818.5,840.75 824.5,833.47 831.5,832.06 838.5,827.45 844.5,829.72 851.5,826.45 858.5,828.81 864.5,830.9 871.5,826.05 878.5,828.57 884.5,831.08 891.5,830.51 898.5,832.28 904.5,834.25 911.5,836.14 918.5,837.17 924.5,839.7 931.5,838.82 938.5,838.76 944.5,840.66 951.5,841.71 958.5,843.61 964.5,845.79 971.5,842.39 978.5,835.45 984.5,827.8 991.5,831.03 998.5,833.53 1004.5,836.11 1011.5,834.67 1018.5,834.45 1024.5,836.44 1031.5,839.47 1038.5,840.95 1045.5,839.72 1051.5,834.14 1058.5,831.51 1065.5,835.53 1071.5,838.72 1078.5,840.76 1085.5,843.39 1091.5,833.08 1098.5,827.53 1105.5,825.3 1111.5,821.68 1118.5,823.67 1125.5,827.03 1131.5,827.46 1138.5,829.24 1145.5,825 1151.5,808.67 1158.5,813.82 1165.5,807.49 1171.5,810.82 1178.5,808.05 1185.5,806.43 1191.5,809.43 1198.5,814.06 1205.5,820.31 1211.5,826.45 1218.5,828.93 1225.5,827.32 1231.5,824.05 1238.5,826.04 1245.5,827.94 1251.5,830.64 1258.5,832.41 1265.5,829.77 1271.5,829.73 1278.5,827.55 1285.5,829.91 1291.5,832.09 1298.5,835.21 1305.5,829.29 1311.5,829.85 1318.5,833.75 1325.5,835.66 1331.5,838.31 1338.5,836.54 1345.5,837.68"/><polyline fill="none" stroke="#311b92" stroke-width="1.2" stroke-linejoin="round" points="10.5,855.3 17.5,854.44 24.5,854.47 30.5,854.17 37.5,855.1 44.5,855.3 50.5,855.15 57.5,855.22 64.5,855.22 70.5,853.51 77.5,851.44 84.5,851.32 90.5,851.21 97.5,849.58 104.5,846.5 110.5,843.34 117.5,839.28 124.5,837.66 130.5,834.47 137.5,831.58 144.5,830.3 150.5,828.97 157.5,827.71 164.5,829.63 170.5,831.2 177.5,830.36 184.5,831.05 190.5,833.68 197.5,836.97 204.5,841.03 211.5,844.39 217.5,845.65 224.5,847.79 231.5,848.16 237.5,847.02 244.5,846.85 251.5,846.32 257.5,841.19 264.5,836.21 271.5,831.32 277.5,824.08 284.5,816.76 291.5,809.93 297.5,804.64 304.5,800.04 311.5,796.36 317.5,794.36 324.5,794.4 331.5,795.5 337.5,794.74 344.5,794.32 351.5,796.87 357.5,799.65 364.5,801.8 371.5,803.61 377.5,804.38 384.5,805.61 391.5,804.8 397.5,806.57 404.5,807.86 411.5,806.87 417.5,807.33 424.5,809.11 431.5,811.91 437.5,814.71 444.5,815.9 451.5,817.41 457.5,820.47 464.5,824.71 471.5,831.3 477.5,836.45 484.5,842.37 491.5,846 497.5,848.28 504.5,851.64 511.5,854.28 517.5,853.9 524.5,853.76 531.5,853.63 537.5,855.62 544.5,857.62 551.5,858.18 557.5,858.18 564.5,855.76 571.5,852.62 577.5,849.3 584.5,842.57 591.5,836.77 597.5,829.86 604.5,822.27 611.5,815.12 618.5,807.96 624.5,807.01 631.5,807.33 638.5,807.66 644.5,808.79 651.5,810.47 658.5,813.05 664.5,817.34 671.5,820.76 678.5,827.3 684.5,834.3 691.5,840.43 698.5,846.22 704.5,852.46 711.5,859.66 718.5,860.65 724.5,859.29 731.5,858.49 738.5,858.56 744.5,858.21 751.5,856.56 758.5,855.82 764.5,856.9 771.5,858.11 778.5,858.16 784.5,859.69 791.5,861.12 798.5,859.93 804.5,856.77 811.5,853.62 818.5,853.51 824.5,854.22 831.5,853.59 838.5,852 844.5,851.59 851.5,849.38 858.5,846.61 864.5,843.71 871.5,840.58 878.5,837.82 884.5,835.69 891.5,835.71 898.5,836.23 904.5,837.33 911.5,837.3 918.5,836.38 924.5,836.46 931.5,838.55 938.5,840.31 944.5,842.97 951.5,845.64 958.5,847.68 964.5,849.08 971.5,850.92 978.5,853.4 984.5,854.53 991.5,855.67 998.5,856.7 1004.5,857.34 1011.5,856.79 1018.5,855.05 1024.5,852.68 1031.5,852.61 1038.5,852.5 1045.5,851.77 1051.5,850.34 1058.5,849.67 1065.5,849.41 1071.5,849.41 1078.5,850.81 1085.5,850.77 1091.5,852.25 1098.5,851.72 1105.5,851.2 1111.5,850.35 1118.5,849.51 1125.5,847.77 1131.5,845.69 1138.5,845.39 1145.5,845.34 1151.5,843.48 1158.5,839.88 1165.5,834.31 1171.5,829.13 1178.5,824.8 1185.5,818.14 1191.5,812.57 1198.5,808.79 1205.5,809.11 1211.5,812.22 1218.5,814.21 1225.5,816.26 1231.5,816.27 1238.5,817.24 1245.5,820.79 1251.5,825.09 1258.5,830.57 1265.5,835.32 1271.5,840.19 1278.5,844.63 1285.5,849.16 1291.5,852.7 1298.5,854.71 1305.5,852.21 1311.5,849.52 1318.5,849.35 1325.5,850.06 1331.5,851.3 1338.5,852.07 1345.5,852.1"/></g>
<rect x="1759" y="27" width="66.5" height="867" fill="#fff"/><text x="1768" y="73.9" font-size="12" fill="#131722" textLength="29.5" lengthAdjust="spacingAndGlyphs">74.00</text><text x="1768" y="109" font-size="12" fill="#131722" textLength="29.5" lengthAdjust="spacingAndGlyphs">72.00</text><text x="1768" y="144.2" font-size="12" fill="#131722" textLength="29.5" lengthAdjust="spacingAndGlyphs">70.00</text><text x="1768" y="180.8" font-size="12" fill="#131722" textLength="29.5" lengthAdjust="spacingAndGlyphs">68.00</text><text x="1768" y="218.3" font-size="12" fill="#131722" textLength="29.5" lengthAdjust="spacingAndGlyphs">66.00</text><text x="1768" y="256.8" font-size="12" fill="#131722" textLength="29.5" lengthAdjust="spacingAndGlyphs">64.00</text><text x="1768" y="296.6" font-size="12" fill="#131722" textLength="29.5" lengthAdjust="spacingAndGlyphs">62.00</text><text x="1768" y="337.7" font-size="12" fill="#131722" textLength="29.5" lengthAdjust="spacingAndGlyphs">60.00</text><text x="1768" y="380.5" font-size="12" fill="#131722" textLength="29.5" lengthAdjust="spacingAndGlyphs">58.00</text><text x="1768" y="413.8" font-size="12" fill="#131722" textLength="29.5" lengthAdjust="spacingAndGlyphs">56.50</text><text x="1768" y="447.5" font-size="12" fill="#131722" textLength="29.5" lengthAdjust="spacingAndGlyphs">55.00</text><text x="1768" y="481.8" font-size="12" fill="#131722" textLength="29.5" lengthAdjust="spacingAndGlyphs">53.50</text><text x="1768" y="518.2" font-size="12" fill="#131722" textLength="29.5" lengthAdjust="spacingAndGlyphs">52.00</text><text x="1768" y="552.7" font-size="12" fill="#131722" textLength="29.5" lengthAdjust="spacingAndGlyphs">50.60</text><text x="1768" y="595.7" font-size="12" fill="#131722" textLength="29.5" lengthAdjust="spacingAndGlyphs">75.00</text><text x="1768" y="668.7" font-size="12" fill="#131722" textLength="29.5" lengthAdjust="spacingAndGlyphs">25.00</text><text x="1768" y="697.8" font-size="12" fill="#131722" textLength="23" lengthAdjust="spacingAndGlyphs">1.00</text><text x="1768" y="806.8" font-size="12" fill="#131722" textLength="29.5" lengthAdjust="spacingAndGlyphs">40.00</text><rect x="1763.5" y="30.5" width="57.5" height="26.5" rx="4" fill="#fff" stroke="#ebebeb" stroke-width="1"/><text x="1772.3" y="48.8" font-size="12" fill="#131722" textLength="20.5" lengthAdjust="spacingAndGlyphs">USD</text><path d="M1760 137H1800.5Q1803 137 1803 139.5V151.2Q1803 153.7 1800.5 153.7H1760Z" fill="#f23645"/><text x="1768" y="149.8" font-size="12" fill="#fff" font-weight="700" textLength="29.5" lengthAdjust="spacingAndGlyphs">69.70</text><path d="M1760 202.9H1800.5Q1803 202.9 1803 205.4V217.1Q1803 219.6 1800.5 219.6H1760Z" fill="#f23645"/><text x="1768" y="215.7" font-size="12" fill="#fff" font-weight="700" textLength="29.5" lengthAdjust="spacingAndGlyphs">66.15</text><path d="M1760 289H1800.5Q1803 289 1803 291.5V303.2Q1803 305.7 1800.5 305.7H1760Z" fill="#f23645"/><text x="1768" y="301.8" font-size="12" fill="#fff" font-weight="700" textLength="29.5" lengthAdjust="spacingAndGlyphs">61.75</text><path d="M1760 364.2H1800.5Q1803 364.2 1803 366.7V378.4Q1803 380.9 1800.5 380.9H1760Z" fill="#4caf50"/><text x="1768" y="377" font-size="12" fill="#fff" font-weight="700" textLength="29.5" lengthAdjust="spacingAndGlyphs">58.32</text><path d="M1760 429H1800.5Q1803 429 1803 431.5V443.2Q1803 445.7 1800.5 445.7H1760Z" fill="#4caf50"/><text x="1768" y="441.8" font-size="12" fill="#fff" font-weight="700" textLength="29.5" lengthAdjust="spacingAndGlyphs">55.25</text><path d="M1760 505H1800.5Q1803 505 1803 507.5V519.2Q1803 521.7 1800.5 521.7H1760Z" fill="#4caf50"/><text x="1768" y="517.8" font-size="12" fill="#fff" font-weight="700" textLength="29.5" lengthAdjust="spacingAndGlyphs">52.00</text><path d="M1759 333.1H1732.5Q1730 333.1 1730 335.6V347.3Q1730 349.8 1732.5 349.8H1759Z" fill="#089981"/><text x="1734.5" y="346" font-size="12" fill="#fff" font-weight="700" textLength="20.5" lengthAdjust="spacingAndGlyphs">WTI</text><path d="M1760 333.1H1817.5Q1820 333.1 1820 335.6V361.3Q1820 363.8 1817.5 363.8H1760Z" fill="#089981"/><text x="1768" y="346" font-size="12" fill="#fff" font-weight="700" textLength="29.5" lengthAdjust="spacingAndGlyphs">59.66</text><text x="1768.5" y="359.8" font-size="12" fill="rgba(255,255,255,0.8)" textLength="45.7" lengthAdjust="spacingAndGlyphs">10:25:12</text><path d="M1759 622H1736.5Q1734 622 1734 624.5V636.3Q1734 638.8 1736.5 638.8H1759Z" fill="#000000"/><path d="M1760 622H1800.5Q1803 622 1803 624.5V636.3Q1803 638.8 1800.5 638.8H1760Z" fill="#000000"/><text x="1755" y="634.9" font-size="12" fill="#fff" font-weight="700" textLength="16" lengthAdjust="spacingAndGlyphs" text-anchor="end">RSI</text><text x="1768" y="634.9" font-size="12" fill="#fff" font-weight="700" textLength="29.5" lengthAdjust="spacingAndGlyphs">48.54</text><path d="M1759 639H1682.5Q1680 639 1680 641.5V653.3Q1680 655.8 1682.5 655.8H1759Z" fill="#fdd835"/><path d="M1760 639H1800.5Q1803 639 1803 641.5V653.3Q1803 655.8 1800.5 655.8H1760Z" fill="#fdd835"/><text x="1755" y="651.9" font-size="12" fill="#131722" textLength="70" lengthAdjust="spacingAndGlyphs" text-anchor="end">RSI-based MA</text><text x="1768" y="651.9" font-size="12" fill="#131722" textLength="29.5" lengthAdjust="spacingAndGlyphs">47.62</text><path d="M1759 723H1698.5Q1696 723 1696 725.5V737.3Q1696 739.8 1698.5 739.8H1759Z" fill="#26a69a"/><path d="M1760 723H1794.5Q1797 723 1797 725.5V737.3Q1797 739.8 1794.5 739.8H1760Z" fill="#26a69a"/><text x="1755" y="735.9" font-size="12" fill="#fff" font-weight="700" textLength="54.5" lengthAdjust="spacingAndGlyphs" text-anchor="end">Histogram</text><text x="1768" y="735.9" font-size="12" fill="#fff" font-weight="700" textLength="23" lengthAdjust="spacingAndGlyphs">0.06</text><path d="M1759 740H1722.5Q1720 740 1720 742.5V754.3Q1720 756.8 1722.5 756.8H1759Z" fill="#2f35f5"/><path d="M1760 740H1800.5Q1803 740 1803 742.5V754.3Q1803 756.8 1800.5 756.8H1760Z" fill="#2f35f5"/><text x="1755" y="752.9" font-size="12" fill="#fff" font-weight="700" textLength="30.5" lengthAdjust="spacingAndGlyphs" text-anchor="end">MACD</text><text x="1768" y="752.9" font-size="12" fill="#fff" font-weight="700" textLength="29.5" lengthAdjust="spacingAndGlyphs">−0.23</text><path d="M1759 757H1721.5Q1719 757 1719 759.5V771.3Q1719 773.8 1721.5 773.8H1759Z" fill="#ffb300"/><path d="M1760 757H1800.5Q1803 757 1803 759.5V771.3Q1803 773.8 1800.5 773.8H1760Z" fill="#ffb300"/><text x="1755" y="769.9" font-size="12" fill="#131722" textLength="31.5" lengthAdjust="spacingAndGlyphs" text-anchor="end">Signal</text><text x="1768" y="769.9" font-size="12" fill="#131722" textLength="29.5" lengthAdjust="spacingAndGlyphs">−0.30</text><path d="M1759 816H1737.5Q1735 816 1735 818.5V830.3Q1735 832.8 1737.5 832.8H1759Z" fill="#ff5252"/><path d="M1760 816H1800.5Q1803 816 1803 818.5V830.3Q1803 832.8 1800.5 832.8H1760Z" fill="#ff5252"/><text x="1755" y="828.9" font-size="12" fill="#fff" font-weight="700" textLength="15" lengthAdjust="spacingAndGlyphs" text-anchor="end">DI-</text><text x="1768" y="828.9" font-size="12" fill="#fff" font-weight="700" textLength="29.5" lengthAdjust="spacingAndGlyphs">19.72</text><path d="M1759 833H1736.5Q1734 833 1734 835.5V847.3Q1734 849.8 1736.5 849.8H1759Z" fill="#4caf50"/><path d="M1760 833H1800.5Q1803 833 1803 835.5V847.3Q1803 849.8 1800.5 849.8H1760Z" fill="#4caf50"/><text x="1755" y="845.9" font-size="12" fill="#fff" font-weight="700" textLength="17" lengthAdjust="spacingAndGlyphs" text-anchor="end">DI+</text><text x="1768" y="845.9" font-size="12" fill="#fff" font-weight="700" textLength="29.5" lengthAdjust="spacingAndGlyphs">17.71</text><path d="M1759 850H1731.5Q1729 850 1729 852.5V864.3Q1729 866.8 1731.5 866.8H1759Z" fill="#311b92"/><path d="M1760 850H1800.5Q1803 850 1803 852.5V864.3Q1803 866.8 1800.5 866.8H1760Z" fill="#311b92"/><text x="1755" y="862.9" font-size="12" fill="#fff" font-weight="700" textLength="21.5" lengthAdjust="spacingAndGlyphs" text-anchor="end">ADX</text><text x="1768" y="862.9" font-size="12" fill="#fff" font-weight="700" textLength="29.5" lengthAdjust="spacingAndGlyphs">11.32</text>
<text x="97.5" y="885" font-size="12" fill="#131722" text-anchor="middle">Mar</text><text x="237.5" y="885" font-size="12" fill="#131722" text-anchor="middle">Apr</text><text x="377.5" y="885" font-size="12" fill="#131722" text-anchor="middle">May</text><text x="524.5" y="885" font-size="12" fill="#131722" text-anchor="middle">Jun</text><text x="664.5" y="885" font-size="12" fill="#131722" text-anchor="middle">Jul</text><text x="818.5" y="885" font-size="12" fill="#131722" text-anchor="middle">Aug</text><text x="958.5" y="885" font-size="12" fill="#131722" text-anchor="middle">Sep</text><text x="1105.5" y="885" font-size="12" fill="#131722" text-anchor="middle">Oct</text><text x="1258.5" y="885" font-size="12" fill="#131722" text-anchor="middle">Nov</text><text x="1391.5" y="885" font-size="12" fill="#131722" text-anchor="middle">Dec</text><text x="1545.5" y="885" font-size="12" fill="#131722" font-weight="700" text-anchor="middle">2026</text><text x="1692.5" y="885" font-size="12" fill="#131722" text-anchor="middle">Feb</text>
<text x="18.3" y="46.4" font-size="12" fill="#131722" textLength="48" lengthAdjust="spacingAndGlyphs">Ichimoku</text><text x="18.5" y="587.9" font-size="12" fill="#131722" textLength="15.2" lengthAdjust="spacingAndGlyphs">RSI</text><text x="18.3" y="699.8" font-size="12" fill="#131722" textLength="29.6" lengthAdjust="spacingAndGlyphs">MACD</text><text x="18.3" y="794.7" font-size="12" fill="#131722" textLength="93" lengthAdjust="spacingAndGlyphs">ADX and DI for v4</text><text x="1693" y="55.1" font-size="23" fill="#2a2e39" textLength="162" lengthAdjust="spacingAndGlyphs" text-anchor="end">WTICASH DAILY</text>
<rect x="10" y="27" width="1815" height="868" fill="none" stroke="#f4f4f4" stroke-width="2"/><g stroke="#e9e9e9" stroke-width="1" fill="none"><line x1="11" y1="568.5" x2="1824" y2="568.5"/><line x1="11" y1="680.5" x2="1824" y2="680.5"/><line x1="11" y1="775.5" x2="1824" y2="775.5"/></g>
<text x="10.5" y="19.3" font-size="12" fill="#131722" textLength="396" lengthAdjust="spacingAndGlyphs">IronFXResearch created with TradingView.com, Nov 20, 2025 13:34 UTC+2</text><g fill="#131722"><path d="M11.9 916.9H23.8V932H17.9V923.2H11.9Z"/><circle cx="29.1" cy="919.8" r="2.9"/><path d="M33.9 916.9H42L36.3 932H29.1Z"/></g><text x="49.1" y="932" font-size="20.5" fill="#131722" font-weight="700" textLength="120.7" lengthAdjust="spacingAndGlyphs">TradingView</text>
</svg>
</body></html>
